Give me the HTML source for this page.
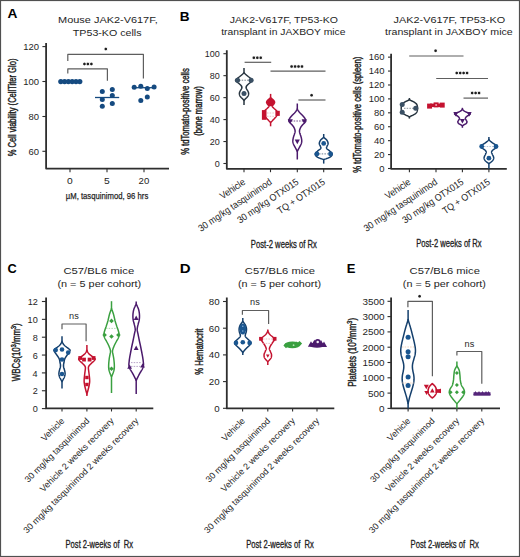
<!DOCTYPE html>
<html><head><meta charset="utf-8"><style>
html,body{margin:0;padding:0;background:#fff;}
svg{display:block;}
svg text{font-family:"Liberation Sans", sans-serif;}
</style></head><body>
<svg width="520" height="557" viewBox="0 0 520 557">
<rect x="0" y="0" width="520" height="557" fill="#fff"/>
<rect x="0.5" y="0.5" width="519" height="556" fill="none" stroke="#505050" stroke-width="1.2"/>
<text x="7.46" y="17.9" font-size="13.6" font-weight="bold" fill="#000" textLength="9.92" lengthAdjust="spacingAndGlyphs" >A</text>
<text x="179.88" y="21.1" font-size="13.6" font-weight="bold" fill="#000" textLength="9.83" lengthAdjust="spacingAndGlyphs" >B</text>
<text x="7.59" y="272.8" font-size="13.6" font-weight="bold" fill="#000" textLength="9.26" lengthAdjust="spacingAndGlyphs" >C</text>
<text x="179.79" y="273" font-size="13.6" font-weight="bold" fill="#000" textLength="10.85" lengthAdjust="spacingAndGlyphs" >D</text>
<text x="346.82" y="273" font-size="13.6" font-weight="bold" fill="#000" textLength="8.69" lengthAdjust="spacingAndGlyphs" >E</text>
<text x="58.1" y="22.6" font-size="9.9" font-weight="normal" fill="#1e1e1e" textLength="99.59" lengthAdjust="spacingAndGlyphs" >Mouse JAK2-V617F,</text>
<text x="72.86" y="35.6" font-size="9.9" font-weight="normal" fill="#1e1e1e" textLength="68.7" lengthAdjust="spacingAndGlyphs" >TP53-KO cells</text>
<polyline points="46.1,43 46.1,168.6 169,168.6" fill="none" stroke="#2e2e2e" stroke-width="1.8" stroke-linejoin="round"/>
<line x1="42.4" y1="46.6" x2="46" y2="46.6" stroke="#2e2e2e" stroke-width="1.1" />
<text x="23.3" y="49.8" font-size="8.3" font-weight="normal" fill="#1e1e1e" textLength="15.77" lengthAdjust="spacingAndGlyphs" >120</text>
<line x1="42.4" y1="81.5" x2="46" y2="81.5" stroke="#2e2e2e" stroke-width="1.1" />
<text x="23.3" y="84.7" font-size="8.3" font-weight="normal" fill="#1e1e1e" textLength="15.77" lengthAdjust="spacingAndGlyphs" >100</text>
<line x1="42.4" y1="116.5" x2="46" y2="116.5" stroke="#2e2e2e" stroke-width="1.1" />
<text x="28.56" y="119.7" font-size="8.3" font-weight="normal" fill="#1e1e1e" textLength="10.51" lengthAdjust="spacingAndGlyphs" >80</text>
<line x1="42.4" y1="151.3" x2="46" y2="151.3" stroke="#2e2e2e" stroke-width="1.1" />
<text x="28.56" y="154.5" font-size="8.3" font-weight="normal" fill="#1e1e1e" textLength="10.51" lengthAdjust="spacingAndGlyphs" >60</text>
<line x1="70" y1="168.7" x2="70" y2="172.3" stroke="#2e2e2e" stroke-width="1.1" />
<text x="67.14" y="183.8" font-size="8.3" font-weight="normal" fill="#1e1e1e" textLength="5.71" lengthAdjust="spacingAndGlyphs" >0</text>
<line x1="107" y1="168.7" x2="107" y2="172.3" stroke="#2e2e2e" stroke-width="1.1" />
<text x="104.14" y="183.8" font-size="8.3" font-weight="normal" fill="#1e1e1e" textLength="5.74" lengthAdjust="spacingAndGlyphs" >5</text>
<line x1="144" y1="168.7" x2="144" y2="172.3" stroke="#2e2e2e" stroke-width="1.1" />
<text x="138.62" y="183.8" font-size="8.3" font-weight="normal" fill="#1e1e1e" textLength="10.66" lengthAdjust="spacingAndGlyphs" >20</text>
<text x="65.78" y="198.8" font-size="9.8" font-weight="normal" fill="#1e1e1e" stroke="#1e1e1e" stroke-width="0.25" textLength="82.49" lengthAdjust="spacingAndGlyphs" >µM, tasquinimod, 96 hrs</text>
<text transform="translate(16.1,156.27) rotate(-90) scale(0.7577,1)" font-size="10" fill="#1e1e1e" stroke="#1e1e1e" stroke-width="0.42"><tspan font-size="10" dy="0">% Cell viability (CellTiter Glo)</tspan></text>
<polyline points="67.8,61 67.8,54.4 143.4,54.4 143.4,78.4" fill="none" stroke="#5e5e5e" stroke-width="1.2" stroke-linejoin="round"/>
<polyline points="67.8,73.6 67.8,68.8 107.4,68.8 107.4,80.8" fill="none" stroke="#5e5e5e" stroke-width="1.2" stroke-linejoin="round"/>
<circle cx="105.8" cy="49" r="1.25" fill="#1e1e1e"/>
<path d="M105.8,47.3V50.7M104.3,48.15L107.3,49.85M104.3,49.85L107.3,48.15" stroke="#1e1e1e" stroke-width="0.5" opacity="0.5"/>
<circle cx="84.45" cy="63.9" r="1.25" fill="#1e1e1e"/>
<path d="M84.45,62.2V65.6M82.95,63.05L85.95,64.75M82.95,64.75L85.95,63.05" stroke="#1e1e1e" stroke-width="0.5" opacity="0.5"/>
<circle cx="87.9" cy="63.9" r="1.25" fill="#1e1e1e"/>
<path d="M87.9,62.2V65.6M86.4,63.05L89.4,64.75M86.4,64.75L89.4,63.05" stroke="#1e1e1e" stroke-width="0.5" opacity="0.5"/>
<circle cx="91.35" cy="63.9" r="1.25" fill="#1e1e1e"/>
<path d="M91.35,62.2V65.6M89.85,63.05L92.85,64.75M89.85,64.75L92.85,63.05" stroke="#1e1e1e" stroke-width="0.5" opacity="0.5"/>
<line x1="60" y1="81.6" x2="80.5" y2="81.6" stroke="#154a80" stroke-width="1.2" />
<circle cx="60.8" cy="81.6" r="2.6" fill="#154a80"/>
<circle cx="64.6" cy="81.6" r="2.6" fill="#154a80"/>
<circle cx="68.4" cy="81.6" r="2.6" fill="#154a80"/>
<circle cx="72.2" cy="81.6" r="2.6" fill="#154a80"/>
<circle cx="76" cy="81.6" r="2.6" fill="#154a80"/>
<circle cx="79.8" cy="81.6" r="2.6" fill="#154a80"/>
<line x1="95" y1="97.5" x2="119.2" y2="97.5" stroke="#154a80" stroke-width="1.3" />
<circle cx="102.3" cy="91.5" r="2.5" fill="#154a80"/>
<circle cx="112.3" cy="89.6" r="2.5" fill="#154a80"/>
<circle cx="112.3" cy="95.4" r="2.5" fill="#154a80"/>
<circle cx="102.3" cy="99.6" r="2.5" fill="#154a80"/>
<circle cx="112.3" cy="103.5" r="2.5" fill="#154a80"/>
<circle cx="102.3" cy="106.2" r="2.5" fill="#154a80"/>
<line x1="132" y1="87.7" x2="156" y2="87.7" stroke="#154a80" stroke-width="1.3" />
<circle cx="134.2" cy="87.3" r="2.5" fill="#154a80"/>
<circle cx="140.8" cy="86.2" r="2.5" fill="#154a80"/>
<circle cx="147.3" cy="88.5" r="2.5" fill="#154a80"/>
<circle cx="154.1" cy="86.9" r="2.5" fill="#154a80"/>
<circle cx="147.3" cy="96.9" r="2.5" fill="#154a80"/>
<circle cx="140.8" cy="100.4" r="2.5" fill="#154a80"/>
<text x="229.84" y="22.6" font-size="9.9" font-weight="normal" fill="#1e1e1e" textLength="108.15" lengthAdjust="spacingAndGlyphs" >JAK2-V617F, TP53-KO</text>
<text x="221.15" y="35.4" font-size="9.9" font-weight="normal" fill="#1e1e1e" textLength="124.3" lengthAdjust="spacingAndGlyphs" >transplant in JAXBOY mice</text>
<polyline points="226.8,50.2 226.8,168.8 342,168.8" fill="none" stroke="#2e2e2e" stroke-width="1.8" stroke-linejoin="round"/>
<line x1="223.4" y1="53.7" x2="226.8" y2="53.7" stroke="#2e2e2e" stroke-width="1.1" />
<text x="204.83" y="56.8" font-size="8.3" font-weight="normal" fill="#1e1e1e" textLength="15.02" lengthAdjust="spacingAndGlyphs" >100</text>
<line x1="223.4" y1="75.66" x2="226.8" y2="75.66" stroke="#2e2e2e" stroke-width="1.1" />
<text x="209.85" y="78.76" font-size="8.3" font-weight="normal" fill="#1e1e1e" textLength="10.01" lengthAdjust="spacingAndGlyphs" >80</text>
<line x1="223.4" y1="97.62" x2="226.8" y2="97.62" stroke="#2e2e2e" stroke-width="1.1" />
<text x="209.85" y="100.72" font-size="8.3" font-weight="normal" fill="#1e1e1e" textLength="10.01" lengthAdjust="spacingAndGlyphs" >60</text>
<line x1="223.4" y1="119.58" x2="226.8" y2="119.58" stroke="#2e2e2e" stroke-width="1.1" />
<text x="209.85" y="122.68" font-size="8.3" font-weight="normal" fill="#1e1e1e" textLength="10.01" lengthAdjust="spacingAndGlyphs" >40</text>
<line x1="223.4" y1="141.54" x2="226.8" y2="141.54" stroke="#2e2e2e" stroke-width="1.1" />
<text x="209.85" y="144.64" font-size="8.3" font-weight="normal" fill="#1e1e1e" textLength="10.01" lengthAdjust="spacingAndGlyphs" >20</text>
<line x1="223.4" y1="163.5" x2="226.8" y2="163.5" stroke="#2e2e2e" stroke-width="1.1" />
<text x="214.84" y="166.6" font-size="8.3" font-weight="normal" fill="#1e1e1e" textLength="5.01" lengthAdjust="spacingAndGlyphs" >0</text>
<text transform="translate(189,154.87) rotate(-90) scale(0.7697,1)" font-size="10" fill="#1e1e1e" stroke="#1e1e1e" stroke-width="0.42"><tspan font-size="10" dy="0">% tdTomato-positive cells</tspan></text>
<text transform="translate(202.3,135.78) rotate(-90) scale(0.7633,1)" font-size="10" fill="#1e1e1e" stroke="#1e1e1e" stroke-width="0.42"><tspan font-size="10" dy="0">(bone marrow)</tspan></text>
<line x1="244" y1="168.8" x2="244" y2="172.2" stroke="#2e2e2e" stroke-width="1.1" />
<line x1="270.5" y1="168.8" x2="270.5" y2="172.2" stroke="#2e2e2e" stroke-width="1.1" />
<line x1="297.3" y1="168.8" x2="297.3" y2="172.2" stroke="#2e2e2e" stroke-width="1.1" />
<line x1="323.7" y1="168.8" x2="323.7" y2="172.2" stroke="#2e2e2e" stroke-width="1.1" />
<line x1="244.6" y1="62.3" x2="271.2" y2="62.3" stroke="#5e5e5e" stroke-width="1.2" />
<circle cx="253.85" cy="57.7" r="1.25" fill="#1e1e1e"/>
<path d="M253.85,56V59.4M252.35,56.85L255.35,58.55M252.35,58.55L255.35,56.85" stroke="#1e1e1e" stroke-width="0.5" opacity="0.5"/>
<circle cx="257.3" cy="57.7" r="1.25" fill="#1e1e1e"/>
<path d="M257.3,56V59.4M255.8,56.85L258.8,58.55M255.8,58.55L258.8,56.85" stroke="#1e1e1e" stroke-width="0.5" opacity="0.5"/>
<circle cx="260.75" cy="57.7" r="1.25" fill="#1e1e1e"/>
<path d="M260.75,56V59.4M259.25,56.85L262.25,58.55M259.25,58.55L262.25,56.85" stroke="#1e1e1e" stroke-width="0.5" opacity="0.5"/>
<line x1="270.5" y1="71.1" x2="325.5" y2="71.1" stroke="#5e5e5e" stroke-width="1.2" />
<circle cx="291.62" cy="66.5" r="1.25" fill="#1e1e1e"/>
<path d="M291.62,64.8V68.2M290.12,65.65L293.12,67.35M290.12,67.35L293.12,65.65" stroke="#1e1e1e" stroke-width="0.5" opacity="0.5"/>
<circle cx="295.07" cy="66.5" r="1.25" fill="#1e1e1e"/>
<path d="M295.07,64.8V68.2M293.57,65.65L296.57,67.35M293.57,67.35L296.57,65.65" stroke="#1e1e1e" stroke-width="0.5" opacity="0.5"/>
<circle cx="298.52" cy="66.5" r="1.25" fill="#1e1e1e"/>
<path d="M298.52,64.8V68.2M297.02,65.65L300.02,67.35M297.02,67.35L300.02,65.65" stroke="#1e1e1e" stroke-width="0.5" opacity="0.5"/>
<circle cx="301.98" cy="66.5" r="1.25" fill="#1e1e1e"/>
<path d="M301.98,64.8V68.2M300.48,65.65L303.48,67.35M300.48,67.35L303.48,65.65" stroke="#1e1e1e" stroke-width="0.5" opacity="0.5"/>
<line x1="298.4" y1="100" x2="325.5" y2="100" stroke="#5e5e5e" stroke-width="1.2" />
<circle cx="311.6" cy="95.2" r="1.25" fill="#1e1e1e"/>
<path d="M311.6,93.5V96.9M310.1,94.35L313.1,96.05M310.1,96.05L313.1,94.35" stroke="#1e1e1e" stroke-width="0.5" opacity="0.5"/>
<path d="M244,72.8 L244.13,72.93 L244.31,73.1 L244.52,73.3 L244.75,73.52 L245,73.77 L245.27,74.01 L245.53,74.26 L245.8,74.5 L246.07,74.74 L246.35,74.98 L246.65,75.23 L246.95,75.48 L247.26,75.74 L247.57,75.99 L247.89,76.25 L248.2,76.5 L248.52,76.75 L248.86,77 L249.2,77.26 L249.54,77.51 L249.88,77.76 L250.21,78.01 L250.52,78.26 L250.8,78.5 L251.08,78.74 L251.36,78.97 L251.64,79.19 L251.91,79.42 L252.14,79.64 L252.32,79.86 L252.45,80.08 L252.5,80.3 L252.47,80.52 L252.37,80.72 L252.22,80.93 L252.01,81.14 L251.78,81.34 L251.52,81.56 L251.26,81.77 L251,82 L250.73,82.24 L250.43,82.48 L250.11,82.73 L249.78,82.98 L249.44,83.24 L249.11,83.49 L248.79,83.75 L248.5,84 L248.22,84.25 L247.95,84.51 L247.68,84.77 L247.43,85.03 L247.18,85.29 L246.96,85.54 L246.77,85.77 L246.6,86 L246.46,86.21 L246.35,86.41 L246.27,86.6 L246.2,86.78 L246.15,86.96 L246.12,87.14 L246.11,87.32 L246.1,87.5 L246.11,87.68 L246.14,87.86 L246.18,88.04 L246.24,88.22 L246.32,88.4 L246.4,88.59 L246.5,88.79 L246.6,89 L246.72,89.22 L246.86,89.46 L247.02,89.7 L247.18,89.96 L247.35,90.21 L247.51,90.47 L247.66,90.74 L247.8,91 L247.93,91.26 L248.06,91.53 L248.18,91.81 L248.3,92.08 L248.41,92.36 L248.49,92.64 L248.56,92.92 L248.6,93.2 L248.61,93.48 L248.61,93.78 L248.58,94.07 L248.54,94.36 L248.48,94.66 L248.4,94.94 L248.31,95.23 L248.2,95.5 L248.08,95.76 L247.93,96.02 L247.77,96.27 L247.6,96.52 L247.41,96.76 L247.22,97.01 L247.01,97.25 L246.8,97.5 L246.57,97.76 L246.31,98.02 L246.04,98.29 L245.76,98.56 L245.49,98.82 L245.23,99.07 L245,99.3 L244.8,99.5 L244.64,99.68 L244.5,99.84 L244.38,99.99 L244.28,100.12 L244.19,100.24 L244.12,100.34 L244.05,100.43 L244,100.5 L244,100.5 L243.95,100.43 L243.88,100.34 L243.81,100.24 L243.72,100.12 L243.62,99.99 L243.5,99.84 L243.36,99.68 L243.2,99.5 L243,99.3 L242.77,99.07 L242.51,98.82 L242.24,98.56 L241.96,98.29 L241.69,98.02 L241.43,97.76 L241.2,97.5 L240.99,97.25 L240.78,97.01 L240.59,96.76 L240.4,96.52 L240.23,96.27 L240.07,96.02 L239.92,95.76 L239.8,95.5 L239.69,95.23 L239.6,94.94 L239.52,94.66 L239.46,94.36 L239.42,94.07 L239.39,93.78 L239.39,93.48 L239.4,93.2 L239.44,92.92 L239.51,92.64 L239.59,92.36 L239.7,92.08 L239.82,91.81 L239.94,91.53 L240.07,91.26 L240.2,91 L240.34,90.74 L240.49,90.47 L240.65,90.21 L240.82,89.96 L240.98,89.7 L241.14,89.46 L241.28,89.22 L241.4,89 L241.5,88.79 L241.6,88.59 L241.68,88.4 L241.76,88.22 L241.82,88.04 L241.86,87.86 L241.89,87.68 L241.9,87.5 L241.89,87.32 L241.88,87.14 L241.85,86.96 L241.8,86.78 L241.73,86.6 L241.65,86.41 L241.54,86.21 L241.4,86 L241.23,85.77 L241.04,85.54 L240.82,85.29 L240.57,85.03 L240.32,84.77 L240.05,84.51 L239.78,84.25 L239.5,84 L239.21,83.75 L238.89,83.49 L238.56,83.24 L238.22,82.98 L237.89,82.73 L237.57,82.48 L237.27,82.24 L237,82 L236.74,81.77 L236.48,81.56 L236.22,81.34 L235.99,81.14 L235.78,80.93 L235.63,80.72 L235.53,80.52 L235.5,80.3 L235.55,80.08 L235.68,79.86 L235.86,79.64 L236.09,79.42 L236.36,79.19 L236.64,78.97 L236.92,78.74 L237.2,78.5 L237.48,78.26 L237.79,78.01 L238.12,77.76 L238.46,77.51 L238.8,77.26 L239.14,77 L239.48,76.75 L239.8,76.5 L240.11,76.25 L240.43,75.99 L240.74,75.74 L241.05,75.48 L241.35,75.23 L241.65,74.98 L241.93,74.74 L242.2,74.5 L242.47,74.26 L242.73,74.01 L243,73.77 L243.25,73.52 L243.48,73.3 L243.69,73.1 L243.87,72.93 L244,72.8Z" fill="none" stroke="#27343f" stroke-width="1.5" stroke-linejoin="round"/>
<line x1="244" y1="68.1" x2="244" y2="73.3" stroke="#27343f" stroke-width="1.5" />
<line x1="244" y1="100" x2="244" y2="105" stroke="#27343f" stroke-width="1.5" />
<line x1="239" y1="80.2" x2="249" y2="80.2" stroke="#555f68" stroke-width="0.8" stroke-dasharray="1.5,1.2"/>
<circle cx="237.6" cy="80.2" r="2.5" fill="#3a5064"/>
<circle cx="251.1" cy="80.2" r="2.5" fill="#3a5064"/>
<circle cx="244" cy="93.4" r="2.5" fill="#3a5064"/>
<path d="M270.6,97.6 L270.71,97.71 L270.86,97.85 L271.04,98.01 L271.24,98.2 L271.46,98.4 L271.68,98.6 L271.89,98.81 L272.1,99 L272.31,99.19 L272.53,99.38 L272.76,99.58 L272.99,99.78 L273.22,99.98 L273.43,100.19 L273.63,100.39 L273.8,100.6 L273.95,100.81 L274.1,101.02 L274.24,101.23 L274.36,101.44 L274.46,101.66 L274.53,101.87 L274.58,102.09 L274.6,102.3 L274.58,102.51 L274.52,102.73 L274.44,102.94 L274.33,103.16 L274.21,103.37 L274.07,103.58 L273.93,103.79 L273.8,104 L273.65,104.21 L273.48,104.42 L273.3,104.63 L273.11,104.84 L272.93,105.05 L272.76,105.24 L272.61,105.43 L272.5,105.6 L272.41,105.75 L272.34,105.88 L272.28,106 L272.24,106.11 L272.22,106.22 L272.22,106.34 L272.25,106.46 L272.3,106.6 L272.38,106.75 L272.5,106.91 L272.64,107.07 L272.8,107.24 L272.98,107.41 L273.18,107.6 L273.38,107.79 L273.6,108 L273.84,108.22 L274.1,108.46 L274.39,108.71 L274.68,108.96 L274.98,109.22 L275.27,109.49 L275.55,109.75 L275.8,110 L276.04,110.25 L276.28,110.5 L276.51,110.75 L276.73,111 L276.93,111.25 L277.11,111.5 L277.27,111.75 L277.4,112 L277.5,112.25 L277.59,112.49 L277.65,112.73 L277.69,112.97 L277.7,113.21 L277.7,113.46 L277.66,113.73 L277.6,114 L277.51,114.29 L277.38,114.59 L277.23,114.9 L277.05,115.22 L276.85,115.54 L276.64,115.86 L276.42,116.18 L276.2,116.5 L275.96,116.82 L275.7,117.14 L275.42,117.46 L275.13,117.78 L274.84,118.1 L274.55,118.41 L274.27,118.71 L274,119 L273.75,119.28 L273.49,119.55 L273.25,119.81 L273.01,120.07 L272.77,120.32 L272.54,120.55 L272.32,120.78 L272.1,121 L271.88,121.21 L271.66,121.42 L271.44,121.63 L271.23,121.83 L271.04,122 L270.86,122.16 L270.71,122.3 L270.6,122.4 L270.6,122.4 L270.49,122.3 L270.34,122.16 L270.16,122 L269.97,121.83 L269.76,121.63 L269.54,121.42 L269.32,121.21 L269.1,121 L268.88,120.78 L268.66,120.55 L268.43,120.32 L268.19,120.07 L267.95,119.81 L267.71,119.55 L267.45,119.28 L267.2,119 L266.93,118.71 L266.65,118.41 L266.36,118.1 L266.07,117.78 L265.78,117.46 L265.5,117.14 L265.24,116.82 L265,116.5 L264.78,116.18 L264.56,115.86 L264.35,115.54 L264.15,115.22 L263.97,114.9 L263.82,114.59 L263.69,114.29 L263.6,114 L263.54,113.73 L263.5,113.46 L263.5,113.21 L263.51,112.97 L263.55,112.73 L263.61,112.49 L263.7,112.25 L263.8,112 L263.93,111.75 L264.09,111.5 L264.27,111.25 L264.48,111 L264.69,110.75 L264.93,110.5 L265.16,110.25 L265.4,110 L265.65,109.75 L265.93,109.49 L266.22,109.22 L266.52,108.96 L266.81,108.71 L267.1,108.46 L267.36,108.22 L267.6,108 L267.82,107.79 L268.02,107.6 L268.22,107.41 L268.4,107.24 L268.56,107.07 L268.7,106.91 L268.82,106.75 L268.9,106.6 L268.95,106.46 L268.98,106.34 L268.98,106.22 L268.96,106.11 L268.92,106 L268.86,105.88 L268.79,105.75 L268.7,105.6 L268.59,105.43 L268.44,105.24 L268.27,105.05 L268.09,104.84 L267.9,104.63 L267.72,104.42 L267.55,104.21 L267.4,104 L267.27,103.79 L267.13,103.58 L266.99,103.37 L266.87,103.16 L266.76,102.94 L266.68,102.73 L266.62,102.51 L266.6,102.3 L266.62,102.09 L266.67,101.87 L266.74,101.66 L266.84,101.44 L266.96,101.23 L267.1,101.02 L267.25,100.81 L267.4,100.6 L267.57,100.39 L267.77,100.19 L267.98,99.98 L268.21,99.78 L268.44,99.58 L268.67,99.38 L268.89,99.19 L269.1,99 L269.31,98.81 L269.52,98.6 L269.74,98.4 L269.96,98.2 L270.16,98.01 L270.34,97.85 L270.49,97.71 L270.6,97.6Z" fill="none" stroke="#c4122f" stroke-width="1.5" stroke-linejoin="round"/>
<line x1="270.6" y1="93.9" x2="270.6" y2="98.1" stroke="#c4122f" stroke-width="1.5" />
<line x1="270.6" y1="121.9" x2="270.6" y2="126.3" stroke="#c4122f" stroke-width="1.5" />
<ellipse cx="270.6" cy="102.3" rx="3.6" ry="3.9" fill="#c4122f"/>
<rect x="261.9" y="110.1" width="4.6" height="9.7" fill="#c4122f"/>
<rect x="275.4" y="110.8" width="4.4" height="5.1" fill="#c4122f"/>
<line x1="267" y1="113" x2="274" y2="113" stroke="#e8a0a8" stroke-width="0.7" stroke-dasharray="1.5,1.2"/>
<line x1="267" y1="116.3" x2="274" y2="116.3" stroke="#e8a0a8" stroke-width="0.7" stroke-dasharray="1.5,1.2"/>
<path d="M297.3,109 L297.39,109.15 L297.51,109.36 L297.64,109.6 L297.8,109.88 L297.97,110.16 L298.14,110.45 L298.32,110.74 L298.5,111 L298.68,111.25 L298.86,111.5 L299.05,111.75 L299.25,112 L299.45,112.25 L299.66,112.5 L299.88,112.75 L300.1,113 L300.33,113.25 L300.57,113.49 L300.81,113.73 L301.06,113.97 L301.32,114.21 L301.58,114.46 L301.84,114.73 L302.1,115 L302.37,115.29 L302.66,115.6 L302.95,115.92 L303.25,116.25 L303.54,116.58 L303.82,116.9 L304.07,117.21 L304.3,117.5 L304.5,117.78 L304.69,118.05 L304.86,118.31 L305.02,118.56 L305.16,118.81 L305.29,119.05 L305.4,119.28 L305.5,119.5 L305.59,119.71 L305.67,119.91 L305.73,120.1 L305.78,120.28 L305.81,120.46 L305.83,120.64 L305.83,120.82 L305.8,121 L305.75,121.18 L305.69,121.36 L305.6,121.54 L305.49,121.72 L305.37,121.9 L305.23,122.09 L305.07,122.29 L304.9,122.5 L304.7,122.72 L304.48,122.95 L304.23,123.19 L303.97,123.44 L303.7,123.69 L303.43,123.95 L303.16,124.22 L302.9,124.5 L302.64,124.79 L302.38,125.09 L302.11,125.4 L301.84,125.72 L301.58,126.04 L301.34,126.36 L301.11,126.68 L300.9,127 L300.71,127.32 L300.54,127.64 L300.39,127.96 L300.24,128.28 L300.11,128.6 L300,128.91 L299.89,129.21 L299.8,129.5 L299.72,129.77 L299.65,130.02 L299.59,130.26 L299.54,130.5 L299.51,130.74 L299.49,130.98 L299.49,131.23 L299.5,131.5 L299.53,131.79 L299.58,132.08 L299.64,132.38 L299.72,132.69 L299.81,133 L299.9,133.33 L300,133.66 L300.1,134 L300.21,134.35 L300.33,134.71 L300.46,135.09 L300.6,135.47 L300.74,135.85 L300.87,136.24 L300.99,136.62 L301.1,137 L301.2,137.38 L301.29,137.76 L301.39,138.15 L301.47,138.53 L301.54,138.91 L301.61,139.29 L301.66,139.65 L301.7,140 L301.73,140.34 L301.74,140.66 L301.75,140.97 L301.74,141.28 L301.73,141.58 L301.7,141.89 L301.66,142.19 L301.6,142.5 L301.53,142.81 L301.45,143.11 L301.35,143.42 L301.24,143.72 L301.12,144.03 L300.99,144.34 L300.85,144.66 L300.7,145 L300.53,145.35 L300.35,145.71 L300.16,146.08 L299.96,146.45 L299.75,146.83 L299.53,147.22 L299.31,147.61 L299.1,148 L298.87,148.42 L298.62,148.88 L298.36,149.36 L298.1,149.84 L297.85,150.29 L297.63,150.7 L297.44,151.04 L297.3,151.3 L297.3,151.3 L297.16,151.04 L296.97,150.7 L296.75,150.29 L296.5,149.84 L296.24,149.36 L295.98,148.88 L295.73,148.42 L295.5,148 L295.29,147.61 L295.07,147.22 L294.85,146.83 L294.64,146.45 L294.44,146.08 L294.25,145.71 L294.07,145.35 L293.9,145 L293.75,144.66 L293.61,144.34 L293.48,144.03 L293.36,143.72 L293.25,143.42 L293.15,143.11 L293.07,142.81 L293,142.5 L292.94,142.19 L292.9,141.89 L292.87,141.58 L292.86,141.28 L292.85,140.97 L292.86,140.66 L292.87,140.34 L292.9,140 L292.94,139.65 L292.99,139.29 L293.06,138.91 L293.13,138.53 L293.21,138.15 L293.31,137.76 L293.4,137.38 L293.5,137 L293.61,136.62 L293.73,136.24 L293.86,135.85 L294,135.47 L294.14,135.09 L294.27,134.71 L294.39,134.35 L294.5,134 L294.6,133.66 L294.7,133.33 L294.79,133 L294.88,132.69 L294.96,132.38 L295.02,132.08 L295.07,131.79 L295.1,131.5 L295.11,131.23 L295.11,130.98 L295.09,130.74 L295.06,130.5 L295.01,130.26 L294.95,130.02 L294.88,129.77 L294.8,129.5 L294.71,129.21 L294.6,128.91 L294.49,128.6 L294.36,128.28 L294.21,127.96 L294.06,127.64 L293.89,127.32 L293.7,127 L293.49,126.68 L293.26,126.36 L293.02,126.04 L292.76,125.72 L292.49,125.4 L292.22,125.09 L291.96,124.79 L291.7,124.5 L291.44,124.22 L291.17,123.95 L290.9,123.69 L290.63,123.44 L290.37,123.19 L290.12,122.95 L289.9,122.72 L289.7,122.5 L289.53,122.29 L289.37,122.09 L289.23,121.9 L289.11,121.72 L289,121.54 L288.91,121.36 L288.85,121.18 L288.8,121 L288.77,120.82 L288.77,120.64 L288.79,120.46 L288.82,120.28 L288.87,120.1 L288.93,119.91 L289.01,119.71 L289.1,119.5 L289.2,119.28 L289.31,119.05 L289.44,118.81 L289.58,118.56 L289.74,118.31 L289.91,118.05 L290.1,117.78 L290.3,117.5 L290.53,117.21 L290.78,116.9 L291.06,116.58 L291.35,116.25 L291.65,115.92 L291.94,115.6 L292.23,115.29 L292.5,115 L292.76,114.73 L293.02,114.46 L293.28,114.21 L293.54,113.97 L293.79,113.73 L294.03,113.49 L294.27,113.25 L294.5,113 L294.72,112.75 L294.94,112.5 L295.15,112.25 L295.35,112 L295.55,111.75 L295.74,111.5 L295.92,111.25 L296.1,111 L296.28,110.74 L296.46,110.45 L296.63,110.16 L296.8,109.88 L296.96,109.6 L297.09,109.36 L297.21,109.15 L297.3,109Z" fill="none" stroke="#4b1a6c" stroke-width="1.5" stroke-linejoin="round"/>
<line x1="297.3" y1="103.5" x2="297.3" y2="109.5" stroke="#4b1a6c" stroke-width="1.5" />
<line x1="297.3" y1="150.8" x2="297.3" y2="159.5" stroke="#4b1a6c" stroke-width="1.5" />
<line x1="291" y1="121" x2="304" y2="121" stroke="#4b1a6c" stroke-width="0.8" stroke-dasharray="1.5,1.2"/>
<polygon points="290.3,123.81 292.9,119.13 287.7,119.13" fill="#4b1a6c"/>
<polygon points="304.2,123.81 306.8,119.13 301.6,119.13" fill="#4b1a6c"/>
<polygon points="297.3,144.21 299.9,139.53 294.7,139.53" fill="#4b1a6c"/>
<path d="M323.7,137.5 L323.94,137.69 L324.28,137.93 L324.68,138.21 L325.11,138.54 L325.56,138.89 L325.99,139.25 L326.38,139.63 L326.7,140 L326.97,140.38 L327.22,140.79 L327.46,141.22 L327.66,141.66 L327.84,142.11 L327.97,142.55 L328.06,142.98 L328.1,143.4 L328.07,143.81 L327.96,144.22 L327.8,144.63 L327.6,145.04 L327.39,145.43 L327.19,145.81 L327.02,146.17 L326.9,146.5 L326.81,146.8 L326.7,147.07 L326.61,147.31 L326.54,147.54 L326.5,147.76 L326.5,147.99 L326.57,148.23 L326.7,148.5 L326.93,148.79 L327.24,149.08 L327.61,149.38 L328.03,149.69 L328.47,150.01 L328.91,150.34 L329.33,150.66 L329.7,151 L330.07,151.34 L330.47,151.69 L330.87,152.05 L331.26,152.41 L331.61,152.78 L331.9,153.15 L332.11,153.53 L332.2,153.9 L332.2,154.28 L332.12,154.67 L331.98,155.07 L331.76,155.47 L331.48,155.87 L331.12,156.26 L330.7,156.64 L330.2,157 L329.56,157.37 L328.74,157.75 L327.81,158.13 L326.82,158.49 L325.86,158.84 L324.97,159.14 L324.23,159.4 L323.7,159.6 L323.7,159.6 L323.17,159.4 L322.43,159.14 L321.54,158.84 L320.57,158.49 L319.59,158.13 L318.66,157.75 L317.84,157.37 L317.2,157 L316.7,156.64 L316.28,156.26 L315.92,155.87 L315.64,155.47 L315.42,155.07 L315.28,154.67 L315.2,154.28 L315.2,153.9 L315.29,153.53 L315.5,153.15 L315.79,152.78 L316.14,152.41 L316.53,152.05 L316.93,151.69 L317.33,151.34 L317.7,151 L318.07,150.66 L318.49,150.34 L318.93,150.01 L319.37,149.69 L319.79,149.38 L320.16,149.08 L320.47,148.79 L320.7,148.5 L320.83,148.23 L320.9,147.99 L320.9,147.76 L320.86,147.54 L320.79,147.31 L320.7,147.07 L320.59,146.8 L320.5,146.5 L320.38,146.17 L320.21,145.81 L320.01,145.43 L319.8,145.04 L319.6,144.63 L319.44,144.22 L319.33,143.81 L319.3,143.4 L319.34,142.98 L319.43,142.55 L319.56,142.11 L319.74,141.66 L319.94,141.22 L320.18,140.79 L320.43,140.38 L320.7,140 L321.02,139.63 L321.41,139.25 L321.84,138.89 L322.29,138.54 L322.72,138.21 L323.12,137.93 L323.46,137.69 L323.7,137.5Z" fill="none" stroke="#143f6c" stroke-width="1.5" stroke-linejoin="round"/>
<line x1="323.7" y1="134" x2="323.7" y2="138" stroke="#143f6c" stroke-width="1.5" />
<line x1="323.7" y1="159.1" x2="323.7" y2="163.6" stroke="#143f6c" stroke-width="1.5" />
<line x1="319" y1="153.9" x2="328" y2="153.9" stroke="#445c78" stroke-width="0.8" stroke-dasharray="1.5,1.2"/>
<circle cx="323.7" cy="143.4" r="2.4" fill="#1a5690"/>
<circle cx="316.9" cy="153.9" r="2.4" fill="#1a5690"/>
<circle cx="330.5" cy="153.9" r="2.4" fill="#1a5690"/>
<text transform="translate(246,183.6) rotate(-34)" font-size="9.7" fill="#1e1e1e" text-anchor="end" textLength="28.46" lengthAdjust="spacingAndGlyphs">Vehicle</text>
<text transform="translate(272.5,183.6) rotate(-34)" font-size="9.7" fill="#1e1e1e" text-anchor="end" textLength="86.36" lengthAdjust="spacingAndGlyphs">30 mg/kg tasquinimod</text>
<text transform="translate(299.3,183.6) rotate(-34)" font-size="9.7" fill="#1e1e1e" text-anchor="end" textLength="71.64" lengthAdjust="spacingAndGlyphs">30 mg/kg OTX015</text>
<text transform="translate(325.7,183.6) rotate(-34)" font-size="9.7" fill="#1e1e1e" text-anchor="end" textLength="55.19" lengthAdjust="spacingAndGlyphs">TQ + OTX015</text>
<text x="250.87" y="247.5" font-size="10" font-weight="normal" fill="#1e1e1e" stroke="#1e1e1e" stroke-width="0.3" textLength="65.92" lengthAdjust="spacingAndGlyphs" >Post-2 weeks of Rx</text>
<text x="393.64" y="22.6" font-size="9.9" font-weight="normal" fill="#1e1e1e" textLength="111.47" lengthAdjust="spacingAndGlyphs" >JAK2-V617F, TP53-KO</text>
<text x="385.04" y="35.4" font-size="9.9" font-weight="normal" fill="#1e1e1e" textLength="127.71" lengthAdjust="spacingAndGlyphs" >transplant in JAXBOY mice</text>
<polyline points="391.1,53.7 391.1,168.8 506.8,168.8" fill="none" stroke="#2e2e2e" stroke-width="1.8" stroke-linejoin="round"/>
<line x1="388" y1="168.5" x2="391.1" y2="168.5" stroke="#2e2e2e" stroke-width="1.1" />
<text x="379.21" y="171.6" font-size="8.3" font-weight="normal" fill="#1e1e1e" textLength="5.26" lengthAdjust="spacingAndGlyphs" >0</text>
<line x1="388" y1="154.58" x2="391.1" y2="154.58" stroke="#2e2e2e" stroke-width="1.1" />
<text x="373.96" y="157.68" font-size="8.3" font-weight="normal" fill="#1e1e1e" textLength="10.51" lengthAdjust="spacingAndGlyphs" >20</text>
<line x1="388" y1="140.66" x2="391.1" y2="140.66" stroke="#2e2e2e" stroke-width="1.1" />
<text x="373.96" y="143.76" font-size="8.3" font-weight="normal" fill="#1e1e1e" textLength="10.51" lengthAdjust="spacingAndGlyphs" >40</text>
<line x1="388" y1="126.74" x2="391.1" y2="126.74" stroke="#2e2e2e" stroke-width="1.1" />
<text x="373.96" y="129.84" font-size="8.3" font-weight="normal" fill="#1e1e1e" textLength="10.51" lengthAdjust="spacingAndGlyphs" >60</text>
<line x1="388" y1="112.82" x2="391.1" y2="112.82" stroke="#2e2e2e" stroke-width="1.1" />
<text x="373.96" y="115.92" font-size="8.3" font-weight="normal" fill="#1e1e1e" textLength="10.51" lengthAdjust="spacingAndGlyphs" >80</text>
<line x1="388" y1="98.9" x2="391.1" y2="98.9" stroke="#2e2e2e" stroke-width="1.1" />
<text x="368.7" y="102" font-size="8.3" font-weight="normal" fill="#1e1e1e" textLength="15.77" lengthAdjust="spacingAndGlyphs" >100</text>
<line x1="388" y1="84.98" x2="391.1" y2="84.98" stroke="#2e2e2e" stroke-width="1.1" />
<text x="368.7" y="88.08" font-size="8.3" font-weight="normal" fill="#1e1e1e" textLength="15.77" lengthAdjust="spacingAndGlyphs" >120</text>
<line x1="388" y1="71.06" x2="391.1" y2="71.06" stroke="#2e2e2e" stroke-width="1.1" />
<text x="368.7" y="74.16" font-size="8.3" font-weight="normal" fill="#1e1e1e" textLength="15.77" lengthAdjust="spacingAndGlyphs" >140</text>
<line x1="388" y1="57.14" x2="391.1" y2="57.14" stroke="#2e2e2e" stroke-width="1.1" />
<text x="368.7" y="60.24" font-size="8.3" font-weight="normal" fill="#1e1e1e" textLength="15.77" lengthAdjust="spacingAndGlyphs" >160</text>
<text transform="translate(361.4,172.87) rotate(-90) scale(0.7667,1)" font-size="10" fill="#1e1e1e" stroke="#1e1e1e" stroke-width="0.42"><tspan font-size="10" dy="0">% tdTomato-positive cells (spleen)</tspan></text>
<line x1="409.4" y1="168.8" x2="409.4" y2="172.2" stroke="#2e2e2e" stroke-width="1.1" />
<line x1="436" y1="168.8" x2="436" y2="172.2" stroke="#2e2e2e" stroke-width="1.1" />
<line x1="462.4" y1="168.8" x2="462.4" y2="172.2" stroke="#2e2e2e" stroke-width="1.1" />
<line x1="488.9" y1="168.8" x2="488.9" y2="172.2" stroke="#2e2e2e" stroke-width="1.1" />
<line x1="409.2" y1="56" x2="463.5" y2="56" stroke="#5e5e5e" stroke-width="1.2" />
<circle cx="435.6" cy="50.7" r="1.25" fill="#1e1e1e"/>
<path d="M435.6,49V52.4M434.1,49.85L437.1,51.55M434.1,51.55L437.1,49.85" stroke="#1e1e1e" stroke-width="0.5" opacity="0.5"/>
<line x1="436.2" y1="78.5" x2="488" y2="78.5" stroke="#5e5e5e" stroke-width="1.2" />
<circle cx="456.72" cy="73" r="1.25" fill="#1e1e1e"/>
<path d="M456.72,71.3V74.7M455.22,72.15L458.22,73.85M455.22,73.85L458.22,72.15" stroke="#1e1e1e" stroke-width="0.5" opacity="0.5"/>
<circle cx="460.17" cy="73" r="1.25" fill="#1e1e1e"/>
<path d="M460.17,71.3V74.7M458.67,72.15L461.67,73.85M458.67,73.85L461.67,72.15" stroke="#1e1e1e" stroke-width="0.5" opacity="0.5"/>
<circle cx="463.62" cy="73" r="1.25" fill="#1e1e1e"/>
<path d="M463.62,71.3V74.7M462.12,72.15L465.12,73.85M462.12,73.85L465.12,72.15" stroke="#1e1e1e" stroke-width="0.5" opacity="0.5"/>
<circle cx="467.07" cy="73" r="1.25" fill="#1e1e1e"/>
<path d="M467.07,71.3V74.7M465.57,72.15L468.57,73.85M465.57,73.85L468.57,72.15" stroke="#1e1e1e" stroke-width="0.5" opacity="0.5"/>
<line x1="463.5" y1="98.1" x2="488" y2="98.1" stroke="#5e5e5e" stroke-width="1.2" />
<circle cx="472.15" cy="92.9" r="1.25" fill="#1e1e1e"/>
<path d="M472.15,91.2V94.6M470.65,92.05L473.65,93.75M470.65,93.75L473.65,92.05" stroke="#1e1e1e" stroke-width="0.5" opacity="0.5"/>
<circle cx="475.6" cy="92.9" r="1.25" fill="#1e1e1e"/>
<path d="M475.6,91.2V94.6M474.1,92.05L477.1,93.75M474.1,93.75L477.1,92.05" stroke="#1e1e1e" stroke-width="0.5" opacity="0.5"/>
<circle cx="479.05" cy="92.9" r="1.25" fill="#1e1e1e"/>
<path d="M479.05,91.2V94.6M477.55,92.05L480.55,93.75M477.55,93.75L480.55,92.05" stroke="#1e1e1e" stroke-width="0.5" opacity="0.5"/>
<path d="M409.4,99.6 L409.48,99.66 L409.58,99.73 L409.7,99.82 L409.84,99.92 L409.99,100.04 L410.17,100.15 L410.37,100.28 L410.6,100.4 L410.86,100.53 L411.15,100.66 L411.48,100.8 L411.82,100.95 L412.17,101.1 L412.52,101.26 L412.87,101.43 L413.2,101.6 L413.53,101.78 L413.86,101.97 L414.2,102.16 L414.53,102.36 L414.85,102.57 L415.16,102.78 L415.45,102.99 L415.7,103.2 L415.92,103.41 L416.13,103.6 L416.31,103.79 L416.47,103.99 L416.62,104.21 L416.75,104.44 L416.88,104.7 L417,105 L417.12,105.34 L417.23,105.72 L417.33,106.13 L417.42,106.56 L417.49,107 L417.55,107.44 L417.59,107.88 L417.6,108.3 L417.59,108.72 L417.55,109.16 L417.49,109.6 L417.42,110.04 L417.33,110.47 L417.23,110.88 L417.12,111.26 L417,111.6 L416.88,111.9 L416.75,112.16 L416.62,112.39 L416.47,112.61 L416.31,112.81 L416.13,113 L415.92,113.19 L415.7,113.4 L415.45,113.61 L415.16,113.82 L414.85,114.03 L414.53,114.24 L414.2,114.44 L413.86,114.63 L413.53,114.82 L413.2,115 L412.87,115.17 L412.52,115.34 L412.17,115.5 L411.82,115.65 L411.48,115.8 L411.15,115.94 L410.86,116.07 L410.6,116.2 L410.37,116.32 L410.17,116.45 L409.99,116.56 L409.84,116.68 L409.7,116.78 L409.58,116.87 L409.48,116.94 L409.4,117 L409.4,117 L409.32,116.94 L409.22,116.87 L409.1,116.78 L408.96,116.68 L408.81,116.56 L408.63,116.45 L408.43,116.32 L408.2,116.2 L407.94,116.07 L407.65,115.94 L407.32,115.8 L406.98,115.65 L406.63,115.5 L406.28,115.34 L405.93,115.17 L405.6,115 L405.27,114.82 L404.94,114.63 L404.6,114.44 L404.27,114.24 L403.95,114.03 L403.64,113.82 L403.35,113.61 L403.1,113.4 L402.88,113.19 L402.67,113 L402.49,112.81 L402.33,112.61 L402.18,112.39 L402.05,112.16 L401.92,111.9 L401.8,111.6 L401.68,111.26 L401.57,110.88 L401.47,110.47 L401.38,110.04 L401.31,109.6 L401.25,109.16 L401.21,108.72 L401.2,108.3 L401.21,107.88 L401.25,107.44 L401.31,107 L401.38,106.56 L401.47,106.13 L401.57,105.72 L401.68,105.34 L401.8,105 L401.92,104.7 L402.05,104.44 L402.18,104.21 L402.33,103.99 L402.49,103.79 L402.67,103.6 L402.88,103.41 L403.1,103.2 L403.35,102.99 L403.64,102.78 L403.95,102.57 L404.27,102.36 L404.6,102.16 L404.94,101.97 L405.27,101.78 L405.6,101.6 L405.93,101.43 L406.28,101.26 L406.63,101.1 L406.98,100.95 L407.32,100.8 L407.65,100.66 L407.94,100.53 L408.2,100.4 L408.43,100.28 L408.63,100.15 L408.81,100.04 L408.96,99.92 L409.1,99.82 L409.22,99.73 L409.32,99.66 L409.4,99.6Z" fill="none" stroke="#27343f" stroke-width="1.5" stroke-linejoin="round"/>
<line x1="409.4" y1="98" x2="409.4" y2="100.1" stroke="#27343f" stroke-width="1.5" />
<line x1="409.4" y1="116.5" x2="409.4" y2="118.6" stroke="#27343f" stroke-width="1.5" />
<line x1="404" y1="108.3" x2="414" y2="108.3" stroke="#6a7580" stroke-width="0.8" stroke-dasharray="1.5,1.2"/>
<circle cx="402.2" cy="104.4" r="2.5" fill="#3a5064"/>
<circle cx="402.2" cy="112.3" r="2.5" fill="#3a5064"/>
<circle cx="415.7" cy="108.3" r="2.5" fill="#3a5064"/>
<rect x="430" y="103.6" width="12" height="3.4" fill="#c4122f"/>
<rect x="427.1" y="103.6" width="5" height="5" fill="#c4122f"/>
<rect x="433.6" y="102.4" width="5" height="5" fill="#c4122f"/>
<rect x="439.7" y="102.6" width="5" height="5" fill="#c4122f"/>
<circle cx="436.1" cy="104.9" r="1" fill="#f0a0b0"/>
<path d="M462.4,109.2 L462.47,109.29 L462.56,109.42 L462.67,109.56 L462.79,109.72 L462.92,109.9 L463.07,110.07 L463.23,110.24 L463.4,110.4 L463.58,110.55 L463.77,110.7 L463.97,110.85 L464.19,111 L464.42,111.15 L464.66,111.3 L464.92,111.45 L465.2,111.6 L465.51,111.75 L465.84,111.9 L466.2,112.06 L466.57,112.21 L466.95,112.36 L467.32,112.51 L467.67,112.66 L468,112.8 L468.33,112.93 L468.67,113.06 L469.02,113.18 L469.35,113.3 L469.65,113.42 L469.9,113.54 L470.09,113.67 L470.2,113.8 L470.22,113.94 L470.17,114.08 L470.05,114.22 L469.89,114.36 L469.69,114.51 L469.46,114.67 L469.23,114.83 L469,115 L468.75,115.18 L468.46,115.36 L468.14,115.56 L467.81,115.76 L467.47,115.96 L467.15,116.17 L466.86,116.38 L466.6,116.6 L466.37,116.82 L466.15,117.06 L465.94,117.3 L465.74,117.54 L465.58,117.79 L465.44,118.03 L465.35,118.27 L465.3,118.5 L465.31,118.72 L465.37,118.94 L465.48,119.15 L465.62,119.36 L465.77,119.57 L465.93,119.78 L466.08,119.99 L466.2,120.2 L466.32,120.41 L466.45,120.62 L466.59,120.84 L466.72,121.05 L466.84,121.26 L466.93,121.48 L466.99,121.69 L467,121.9 L466.97,122.11 L466.91,122.33 L466.82,122.55 L466.7,122.77 L466.56,122.98 L466.39,123.2 L466.2,123.4 L466,123.6 L465.76,123.79 L465.47,123.99 L465.15,124.17 L464.81,124.36 L464.47,124.53 L464.15,124.7 L463.85,124.86 L463.6,125 L463.38,125.13 L463.19,125.26 L463.01,125.38 L462.85,125.49 L462.71,125.58 L462.59,125.67 L462.48,125.74 L462.4,125.8 L462.4,125.8 L462.32,125.74 L462.21,125.67 L462.09,125.58 L461.95,125.49 L461.79,125.38 L461.61,125.26 L461.42,125.13 L461.2,125 L460.95,124.86 L460.65,124.7 L460.33,124.53 L459.99,124.36 L459.65,124.17 L459.33,123.99 L459.04,123.79 L458.8,123.6 L458.6,123.4 L458.41,123.2 L458.24,122.98 L458.1,122.77 L457.98,122.55 L457.89,122.33 L457.83,122.11 L457.8,121.9 L457.81,121.69 L457.87,121.48 L457.96,121.26 L458.08,121.05 L458.21,120.84 L458.35,120.62 L458.48,120.41 L458.6,120.2 L458.72,119.99 L458.87,119.78 L459.03,119.57 L459.18,119.36 L459.32,119.15 L459.43,118.94 L459.49,118.72 L459.5,118.5 L459.45,118.27 L459.36,118.03 L459.22,117.79 L459.06,117.54 L458.86,117.3 L458.65,117.06 L458.43,116.82 L458.2,116.6 L457.94,116.38 L457.65,116.17 L457.33,115.96 L456.99,115.76 L456.66,115.56 L456.34,115.36 L456.05,115.18 L455.8,115 L455.57,114.83 L455.34,114.67 L455.11,114.51 L454.91,114.36 L454.75,114.22 L454.63,114.08 L454.58,113.94 L454.6,113.8 L454.71,113.67 L454.9,113.54 L455.15,113.42 L455.45,113.3 L455.78,113.18 L456.13,113.06 L456.47,112.93 L456.8,112.8 L457.13,112.66 L457.48,112.51 L457.85,112.36 L458.22,112.21 L458.6,112.06 L458.96,111.9 L459.29,111.75 L459.6,111.6 L459.88,111.45 L460.14,111.3 L460.38,111.15 L460.61,111 L460.83,110.85 L461.03,110.7 L461.22,110.55 L461.4,110.4 L461.57,110.24 L461.73,110.07 L461.88,109.9 L462.01,109.72 L462.13,109.56 L462.24,109.42 L462.33,109.29 L462.4,109.2Z" fill="none" stroke="#4b1a6c" stroke-width="1.5" stroke-linejoin="round"/>
<line x1="462.4" y1="107.8" x2="462.4" y2="109.7" stroke="#4b1a6c" stroke-width="1.5" />
<line x1="462.4" y1="125.3" x2="462.4" y2="127.8" stroke="#4b1a6c" stroke-width="1.5" />
<polygon points="455.8,116.5 458.3,112 453.3,112" fill="#4b1a6c"/>
<polygon points="469.2,116.5 471.7,112 466.7,112" fill="#4b1a6c"/>
<polygon points="462.4,123.6 464.9,119.1 459.9,119.1" fill="#4b1a6c"/>
<path d="M488.9,139.6 L488.98,139.71 L489.09,139.84 L489.21,140 L489.35,140.19 L489.51,140.38 L489.69,140.59 L489.88,140.8 L490.1,141 L490.34,141.2 L490.6,141.42 L490.89,141.64 L491.19,141.86 L491.5,142.09 L491.83,142.33 L492.16,142.56 L492.5,142.8 L492.86,143.04 L493.24,143.29 L493.64,143.55 L494.05,143.81 L494.45,144.06 L494.83,144.32 L495.19,144.56 L495.5,144.8 L495.79,145.03 L496.07,145.25 L496.34,145.46 L496.59,145.67 L496.8,145.88 L496.96,146.08 L497.06,146.29 L497.1,146.5 L497.06,146.71 L496.95,146.92 L496.78,147.13 L496.56,147.34 L496.31,147.56 L496.05,147.77 L495.77,147.98 L495.5,148.2 L495.21,148.42 L494.89,148.64 L494.54,148.86 L494.18,149.09 L493.82,149.31 L493.48,149.54 L493.17,149.77 L492.9,150 L492.66,150.23 L492.44,150.46 L492.23,150.69 L492.04,150.92 L491.88,151.15 L491.75,151.39 L491.66,151.64 L491.6,151.9 L491.59,152.17 L491.63,152.45 L491.7,152.74 L491.81,153.04 L491.93,153.33 L492.06,153.63 L492.18,153.92 L492.3,154.2 L492.41,154.47 L492.54,154.74 L492.68,155.01 L492.82,155.27 L492.96,155.54 L493.09,155.79 L493.2,156.05 L493.3,156.3 L493.39,156.55 L493.47,156.79 L493.55,157.02 L493.61,157.26 L493.66,157.49 L493.7,157.72 L493.71,157.96 L493.7,158.2 L493.67,158.45 L493.61,158.69 L493.54,158.94 L493.45,159.19 L493.34,159.45 L493.21,159.7 L493.07,159.95 L492.9,160.2 L492.71,160.45 L492.48,160.72 L492.24,160.98 L491.97,161.24 L491.7,161.5 L491.43,161.75 L491.16,161.98 L490.9,162.2 L490.64,162.4 L490.35,162.6 L490.06,162.8 L489.77,162.97 L489.5,163.14 L489.26,163.28 L489.05,163.4 L488.9,163.5 L488.9,163.5 L488.75,163.4 L488.54,163.28 L488.3,163.14 L488.02,162.97 L487.74,162.8 L487.45,162.6 L487.16,162.4 L486.9,162.2 L486.64,161.98 L486.37,161.75 L486.1,161.5 L485.82,161.24 L485.56,160.98 L485.32,160.72 L485.09,160.45 L484.9,160.2 L484.73,159.95 L484.59,159.7 L484.46,159.45 L484.35,159.19 L484.26,158.94 L484.19,158.69 L484.13,158.45 L484.1,158.2 L484.09,157.96 L484.1,157.72 L484.14,157.49 L484.19,157.26 L484.25,157.02 L484.33,156.79 L484.41,156.55 L484.5,156.3 L484.6,156.05 L484.71,155.79 L484.84,155.54 L484.98,155.27 L485.12,155.01 L485.26,154.74 L485.39,154.47 L485.5,154.2 L485.62,153.92 L485.74,153.63 L485.87,153.33 L485.99,153.04 L486.1,152.74 L486.17,152.45 L486.21,152.17 L486.2,151.9 L486.14,151.64 L486.05,151.39 L485.92,151.15 L485.76,150.92 L485.57,150.69 L485.36,150.46 L485.14,150.23 L484.9,150 L484.63,149.77 L484.32,149.54 L483.98,149.31 L483.62,149.09 L483.26,148.86 L482.91,148.64 L482.59,148.42 L482.3,148.2 L482.03,147.98 L481.75,147.77 L481.49,147.56 L481.24,147.34 L481.02,147.13 L480.85,146.92 L480.74,146.71 L480.7,146.5 L480.74,146.29 L480.84,146.08 L481,145.88 L481.21,145.67 L481.46,145.46 L481.73,145.25 L482.01,145.03 L482.3,144.8 L482.61,144.56 L482.97,144.32 L483.35,144.06 L483.75,143.81 L484.16,143.55 L484.56,143.29 L484.94,143.04 L485.3,142.8 L485.64,142.56 L485.97,142.33 L486.3,142.09 L486.61,141.86 L486.91,141.64 L487.2,141.42 L487.46,141.2 L487.7,141 L487.92,140.8 L488.11,140.59 L488.29,140.38 L488.45,140.19 L488.59,140 L488.71,139.84 L488.82,139.71 L488.9,139.6Z" fill="none" stroke="#143f6c" stroke-width="1.5" stroke-linejoin="round"/>
<line x1="488.9" y1="137.1" x2="488.9" y2="140.1" stroke="#143f6c" stroke-width="1.5" />
<line x1="488.9" y1="163" x2="488.9" y2="168.8" stroke="#143f6c" stroke-width="1.5" />
<line x1="484" y1="146.5" x2="494" y2="146.5" stroke="#9fb6cc" stroke-width="0.8" stroke-dasharray="1.5,1.2"/>
<circle cx="481.7" cy="146.5" r="2.4" fill="#1a5690"/>
<circle cx="496" cy="146.5" r="2.4" fill="#1a5690"/>
<circle cx="488.9" cy="158.2" r="2.4" fill="#1a5690"/>
<text transform="translate(411.4,183.6) rotate(-34)" font-size="9.7" fill="#1e1e1e" text-anchor="end" textLength="28.46" lengthAdjust="spacingAndGlyphs">Vehicle</text>
<text transform="translate(438,183.6) rotate(-34)" font-size="9.7" fill="#1e1e1e" text-anchor="end" textLength="86.36" lengthAdjust="spacingAndGlyphs">30 mg/kg tasquinimod</text>
<text transform="translate(464.4,183.6) rotate(-34)" font-size="9.7" fill="#1e1e1e" text-anchor="end" textLength="71.64" lengthAdjust="spacingAndGlyphs">30 mg/kg OTX015</text>
<text transform="translate(490.9,183.6) rotate(-34)" font-size="9.7" fill="#1e1e1e" text-anchor="end" textLength="55.19" lengthAdjust="spacingAndGlyphs">TQ + OTX015</text>
<text x="416.27" y="247.2" font-size="10" font-weight="normal" fill="#1e1e1e" stroke="#1e1e1e" stroke-width="0.3" textLength="65.32" lengthAdjust="spacingAndGlyphs" >Post-2 weeks of Rx</text>
<text x="63.44" y="273.8" font-size="9.6" font-weight="normal" fill="#1e1e1e" textLength="70.75" lengthAdjust="spacingAndGlyphs" >C57/BL6 mice</text>
<text x="57.42" y="286.9" font-size="9.6" font-weight="normal" fill="#1e1e1e" textLength="83.84" lengthAdjust="spacingAndGlyphs" >(n = 5 per cohort)</text>
<polyline points="46.1,297.5 46.1,408.4 153.3,408.4" fill="none" stroke="#2e2e2e" stroke-width="1.8" stroke-linejoin="round"/>
<line x1="41.9" y1="408.6" x2="46" y2="408.6" stroke="#2e2e2e" stroke-width="1.1" />
<text x="32.69" y="412.2" font-size="8.3" font-weight="normal" fill="#1e1e1e" textLength="5.06" lengthAdjust="spacingAndGlyphs" >0</text>
<line x1="41.9" y1="390.75" x2="46" y2="390.75" stroke="#2e2e2e" stroke-width="1.1" />
<text x="32.8" y="394.35" font-size="8.3" font-weight="normal" fill="#1e1e1e" textLength="5.06" lengthAdjust="spacingAndGlyphs" >2</text>
<line x1="41.9" y1="372.9" x2="46" y2="372.9" stroke="#2e2e2e" stroke-width="1.1" />
<text x="32.6" y="376.5" font-size="8.3" font-weight="normal" fill="#1e1e1e" textLength="5.06" lengthAdjust="spacingAndGlyphs" >4</text>
<line x1="41.9" y1="355.05" x2="46" y2="355.05" stroke="#2e2e2e" stroke-width="1.1" />
<text x="32.74" y="358.65" font-size="8.3" font-weight="normal" fill="#1e1e1e" textLength="5.06" lengthAdjust="spacingAndGlyphs" >6</text>
<line x1="41.9" y1="337.2" x2="46" y2="337.2" stroke="#2e2e2e" stroke-width="1.1" />
<text x="32.74" y="340.8" font-size="8.3" font-weight="normal" fill="#1e1e1e" textLength="5.06" lengthAdjust="spacingAndGlyphs" >8</text>
<line x1="41.9" y1="319.35" x2="46" y2="319.35" stroke="#2e2e2e" stroke-width="1.1" />
<text x="27.64" y="322.95" font-size="8.3" font-weight="normal" fill="#1e1e1e" textLength="10.12" lengthAdjust="spacingAndGlyphs" >10</text>
<line x1="41.9" y1="301.5" x2="46" y2="301.5" stroke="#2e2e2e" stroke-width="1.1" />
<text x="27.75" y="305.1" font-size="8.3" font-weight="normal" fill="#1e1e1e" textLength="10.12" lengthAdjust="spacingAndGlyphs" >12</text>
<text transform="translate(20.4,381.14) rotate(-90) scale(0.7691,1)" font-size="10.3" fill="#1e1e1e" stroke="#1e1e1e" stroke-width="0.42"><tspan font-size="10.3" dy="0">WBCs(10</tspan><tspan font-size="7" dy="-4.6">3</tspan><tspan font-size="10.3" dy="4.6">/mm</tspan><tspan font-size="7" dy="-4.6">3</tspan><tspan font-size="10.3" dy="4.6">)</tspan></text>
<line x1="62" y1="408.4" x2="62" y2="411.5" stroke="#2e2e2e" stroke-width="1.1" />
<line x1="86.9" y1="408.4" x2="86.9" y2="411.5" stroke="#2e2e2e" stroke-width="1.1" />
<line x1="111.5" y1="408.4" x2="111.5" y2="411.5" stroke="#2e2e2e" stroke-width="1.1" />
<line x1="136.2" y1="408.4" x2="136.2" y2="411.5" stroke="#2e2e2e" stroke-width="1.1" />
<polyline points="62,329.2 62,324 86.1,324 86.1,341.3" fill="none" stroke="#5e5e5e" stroke-width="1.2" stroke-linejoin="round"/>
<text x="69.08" y="318.8" font-size="8.6" font-weight="normal" fill="#1e1e1e" textLength="9.65" lengthAdjust="spacingAndGlyphs" >ns</text>
<path d="M62,341.2 L62.07,341.38 L62.17,341.62 L62.28,341.91 L62.4,342.22 L62.54,342.56 L62.68,342.89 L62.84,343.21 L63,343.5 L63.17,343.76 L63.34,344.02 L63.52,344.27 L63.71,344.52 L63.92,344.76 L64.13,345.01 L64.36,345.25 L64.6,345.5 L64.86,345.75 L65.15,346.01 L65.45,346.26 L65.76,346.52 L66.07,346.77 L66.39,347.02 L66.7,347.26 L67,347.5 L67.3,347.73 L67.62,347.96 L67.94,348.18 L68.25,348.4 L68.55,348.61 L68.83,348.82 L69.08,349.01 L69.3,349.2 L69.48,349.37 L69.65,349.52 L69.78,349.66 L69.9,349.79 L69.99,349.93 L70.05,350.07 L70.09,350.22 L70.1,350.4 L70.08,350.59 L70.02,350.78 L69.94,350.99 L69.83,351.2 L69.69,351.43 L69.54,351.67 L69.38,351.92 L69.2,352.2 L69,352.5 L68.78,352.82 L68.53,353.17 L68.27,353.53 L68,353.89 L67.73,354.26 L67.46,354.63 L67.2,355 L66.94,355.37 L66.67,355.76 L66.4,356.15 L66.12,356.55 L65.86,356.94 L65.62,357.32 L65.39,357.67 L65.2,358 L65.04,358.29 L64.91,358.56 L64.79,358.8 L64.7,359.03 L64.62,359.26 L64.54,359.49 L64.47,359.73 L64.4,360 L64.33,360.29 L64.27,360.59 L64.23,360.9 L64.18,361.22 L64.14,361.54 L64.1,361.86 L64.05,362.18 L64,362.5 L63.94,362.81 L63.87,363.12 L63.79,363.44 L63.71,363.75 L63.64,364.06 L63.58,364.38 L63.53,364.69 L63.5,365 L63.49,365.31 L63.48,365.61 L63.49,365.92 L63.51,366.22 L63.54,366.53 L63.58,366.84 L63.64,367.16 L63.7,367.5 L63.78,367.85 L63.89,368.21 L64,368.59 L64.13,368.97 L64.26,369.35 L64.39,369.74 L64.5,370.12 L64.6,370.5 L64.69,370.88 L64.78,371.25 L64.86,371.62 L64.94,372 L65,372.38 L65.05,372.75 L65.09,373.12 L65.1,373.5 L65.09,373.88 L65.06,374.26 L65.02,374.65 L64.96,375.03 L64.88,375.41 L64.8,375.79 L64.7,376.15 L64.6,376.5 L64.48,376.84 L64.35,377.16 L64.21,377.47 L64.06,377.78 L63.9,378.08 L63.73,378.38 L63.56,378.69 L63.4,379 L63.23,379.34 L63.03,379.7 L62.83,380.08 L62.62,380.46 L62.43,380.81 L62.26,381.13 L62.11,381.4 L62,381.6 L62,381.6 L61.89,381.4 L61.74,381.13 L61.57,380.81 L61.38,380.46 L61.17,380.08 L60.97,379.7 L60.77,379.34 L60.6,379 L60.44,378.69 L60.27,378.38 L60.1,378.08 L59.94,377.78 L59.79,377.47 L59.65,377.16 L59.52,376.84 L59.4,376.5 L59.3,376.15 L59.2,375.79 L59.12,375.41 L59.04,375.03 L58.98,374.65 L58.94,374.26 L58.91,373.88 L58.9,373.5 L58.91,373.12 L58.95,372.75 L59,372.38 L59.06,372 L59.14,371.62 L59.22,371.25 L59.31,370.88 L59.4,370.5 L59.5,370.12 L59.61,369.74 L59.74,369.35 L59.87,368.97 L60,368.59 L60.11,368.21 L60.22,367.85 L60.3,367.5 L60.36,367.16 L60.42,366.84 L60.46,366.53 L60.49,366.22 L60.51,365.92 L60.52,365.61 L60.51,365.31 L60.5,365 L60.47,364.69 L60.42,364.38 L60.36,364.06 L60.29,363.75 L60.21,363.44 L60.13,363.12 L60.06,362.81 L60,362.5 L59.95,362.18 L59.9,361.86 L59.86,361.54 L59.82,361.22 L59.77,360.9 L59.73,360.59 L59.67,360.29 L59.6,360 L59.53,359.73 L59.46,359.49 L59.38,359.26 L59.3,359.03 L59.21,358.8 L59.09,358.56 L58.96,358.29 L58.8,358 L58.61,357.67 L58.38,357.32 L58.14,356.94 L57.88,356.55 L57.6,356.15 L57.33,355.76 L57.06,355.37 L56.8,355 L56.54,354.63 L56.27,354.26 L56,353.89 L55.73,353.53 L55.47,353.17 L55.22,352.82 L55,352.5 L54.8,352.2 L54.62,351.92 L54.46,351.67 L54.31,351.43 L54.17,351.2 L54.06,350.99 L53.98,350.78 L53.92,350.59 L53.9,350.4 L53.91,350.22 L53.95,350.07 L54.01,349.93 L54.1,349.79 L54.22,349.66 L54.35,349.52 L54.52,349.37 L54.7,349.2 L54.92,349.01 L55.17,348.82 L55.45,348.61 L55.75,348.4 L56.06,348.18 L56.38,347.96 L56.7,347.73 L57,347.5 L57.3,347.26 L57.61,347.02 L57.93,346.77 L58.24,346.52 L58.55,346.26 L58.85,346.01 L59.14,345.75 L59.4,345.5 L59.64,345.25 L59.87,345.01 L60.08,344.76 L60.29,344.52 L60.48,344.27 L60.66,344.02 L60.83,343.76 L61,343.5 L61.16,343.21 L61.32,342.89 L61.46,342.56 L61.6,342.22 L61.72,341.91 L61.83,341.62 L61.93,341.38 L62,341.2Z" fill="none" stroke="#143f6c" stroke-width="1.5" stroke-linejoin="round"/>
<line x1="62" y1="336.3" x2="62" y2="341.7" stroke="#143f6c" stroke-width="1.5" />
<line x1="62" y1="381.1" x2="62" y2="388.4" stroke="#143f6c" stroke-width="1.5" />
<circle cx="55.7" cy="350.1" r="2.3" fill="#1a5690"/>
<circle cx="62" cy="349.5" r="2.3" fill="#1a5690"/>
<circle cx="68.2" cy="352.6" r="2.3" fill="#1a5690"/>
<circle cx="62" cy="359.5" r="2.3" fill="#1a5690"/>
<circle cx="62" cy="374" r="2.3" fill="#1a5690"/>
<path d="M86.9,350.2 L86.97,350.37 L87.06,350.6 L87.17,350.87 L87.29,351.18 L87.43,351.49 L87.58,351.81 L87.73,352.12 L87.9,352.4 L88.07,352.66 L88.26,352.91 L88.45,353.16 L88.66,353.41 L88.87,353.66 L89.1,353.9 L89.34,354.15 L89.6,354.4 L89.88,354.65 L90.18,354.91 L90.49,355.17 L90.82,355.42 L91.15,355.68 L91.48,355.93 L91.8,356.17 L92.1,356.4 L92.4,356.62 L92.7,356.84 L93.01,357.05 L93.31,357.25 L93.59,357.45 L93.86,357.64 L94.09,357.82 L94.3,358 L94.48,358.17 L94.65,358.31 L94.79,358.45 L94.91,358.59 L95.01,358.72 L95.07,358.87 L95.11,359.02 L95.1,359.2 L95.06,359.39 L94.97,359.59 L94.86,359.8 L94.71,360.02 L94.54,360.25 L94.35,360.49 L94.13,360.74 L93.9,361 L93.64,361.27 L93.33,361.56 L93,361.87 L92.65,362.18 L92.29,362.5 L91.94,362.81 L91.61,363.11 L91.3,363.4 L91.01,363.68 L90.73,363.95 L90.46,364.21 L90.19,364.47 L89.94,364.73 L89.71,364.99 L89.49,365.24 L89.3,365.5 L89.13,365.74 L88.97,365.97 L88.83,366.19 L88.71,366.41 L88.6,366.64 L88.51,366.9 L88.45,367.18 L88.4,367.5 L88.38,367.86 L88.39,368.26 L88.42,368.68 L88.46,369.12 L88.52,369.58 L88.58,370.05 L88.64,370.53 L88.7,371 L88.75,371.48 L88.81,371.96 L88.88,372.46 L88.94,372.97 L89.01,373.48 L89.08,373.99 L89.14,374.5 L89.2,375 L89.26,375.5 L89.32,376.01 L89.37,376.52 L89.43,377.03 L89.48,377.54 L89.53,378.04 L89.57,378.52 L89.6,379 L89.62,379.46 L89.64,379.9 L89.66,380.33 L89.67,380.75 L89.67,381.17 L89.66,381.6 L89.64,382.04 L89.6,382.5 L89.55,382.98 L89.48,383.46 L89.4,383.96 L89.31,384.47 L89.22,384.98 L89.11,385.49 L89.01,386 L88.9,386.5 L88.79,387 L88.67,387.51 L88.55,388.02 L88.42,388.53 L88.29,389.04 L88.16,389.54 L88.03,390.02 L87.9,390.5 L87.77,390.99 L87.63,391.49 L87.48,392 L87.34,392.5 L87.2,392.97 L87.08,393.38 L86.98,393.73 L86.9,394 L86.9,394 L86.82,393.73 L86.72,393.38 L86.6,392.97 L86.46,392.5 L86.32,392 L86.17,391.49 L86.03,390.99 L85.9,390.5 L85.77,390.02 L85.64,389.54 L85.51,389.04 L85.38,388.53 L85.25,388.02 L85.13,387.51 L85.01,387 L84.9,386.5 L84.79,386 L84.69,385.49 L84.58,384.98 L84.49,384.47 L84.4,383.96 L84.32,383.46 L84.25,382.98 L84.2,382.5 L84.16,382.04 L84.14,381.6 L84.13,381.17 L84.13,380.75 L84.14,380.33 L84.16,379.9 L84.18,379.46 L84.2,379 L84.23,378.52 L84.27,378.04 L84.32,377.54 L84.37,377.03 L84.43,376.52 L84.48,376.01 L84.54,375.5 L84.6,375 L84.66,374.5 L84.72,373.99 L84.79,373.48 L84.86,372.97 L84.92,372.46 L84.99,371.96 L85.05,371.48 L85.1,371 L85.16,370.53 L85.22,370.05 L85.28,369.58 L85.34,369.12 L85.38,368.68 L85.41,368.26 L85.42,367.86 L85.4,367.5 L85.35,367.18 L85.29,366.9 L85.2,366.64 L85.09,366.41 L84.97,366.19 L84.83,365.97 L84.67,365.74 L84.5,365.5 L84.31,365.24 L84.09,364.99 L83.86,364.73 L83.61,364.47 L83.34,364.21 L83.07,363.95 L82.79,363.68 L82.5,363.4 L82.19,363.11 L81.86,362.81 L81.51,362.5 L81.15,362.18 L80.8,361.87 L80.47,361.56 L80.16,361.27 L79.9,361 L79.67,360.74 L79.45,360.49 L79.26,360.25 L79.09,360.02 L78.94,359.8 L78.83,359.59 L78.74,359.39 L78.7,359.2 L78.69,359.02 L78.73,358.87 L78.79,358.72 L78.89,358.59 L79.01,358.45 L79.15,358.31 L79.32,358.17 L79.5,358 L79.71,357.82 L79.94,357.64 L80.21,357.45 L80.49,357.25 L80.79,357.05 L81.1,356.84 L81.4,356.62 L81.7,356.4 L82,356.17 L82.32,355.93 L82.65,355.68 L82.98,355.42 L83.31,355.17 L83.62,354.91 L83.92,354.65 L84.2,354.4 L84.46,354.15 L84.7,353.9 L84.93,353.66 L85.14,353.41 L85.35,353.16 L85.54,352.91 L85.73,352.66 L85.9,352.4 L86.07,352.12 L86.22,351.81 L86.37,351.49 L86.51,351.18 L86.63,350.87 L86.74,350.6 L86.83,350.37 L86.9,350.2Z" fill="none" stroke="#c4122f" stroke-width="1.5" stroke-linejoin="round"/>
<line x1="86.9" y1="345" x2="86.9" y2="350.7" stroke="#c4122f" stroke-width="1.5" />
<line x1="86.9" y1="393.5" x2="86.9" y2="396" stroke="#c4122f" stroke-width="1.5" />
<rect x="78.3" y="356.1" width="3.8" height="3.8" fill="#c4122f"/>
<rect x="91.7" y="356.1" width="3.8" height="3.8" fill="#c4122f"/>
<rect x="82.1" y="357.7" width="3.8" height="3.8" fill="#c4122f"/>
<rect x="87.7" y="357.7" width="3.8" height="3.8" fill="#c4122f"/>
<rect x="85.2" y="375.8" width="3.4" height="3.4" fill="#c4122f"/>
<rect x="85.2" y="382.8" width="3.4" height="3.4" fill="#c4122f"/>
<path d="M111.5,308.6 L111.57,308.77 L111.65,308.99 L111.75,309.25 L111.87,309.55 L111.99,309.88 L112.13,310.23 L112.26,310.61 L112.4,311 L112.54,311.41 L112.69,311.84 L112.85,312.3 L113.02,312.78 L113.19,313.29 L113.36,313.83 L113.53,314.4 L113.7,315 L113.87,315.65 L114.04,316.36 L114.21,317.11 L114.38,317.88 L114.56,318.66 L114.73,319.44 L114.91,320.19 L115.1,320.9 L115.29,321.58 L115.48,322.23 L115.68,322.88 L115.88,323.51 L116.08,324.13 L116.29,324.75 L116.49,325.37 L116.7,326 L116.91,326.64 L117.14,327.29 L117.37,327.94 L117.61,328.59 L117.83,329.23 L118.04,329.85 L118.23,330.44 L118.4,331 L118.55,331.52 L118.68,332 L118.8,332.46 L118.91,332.9 L118.99,333.33 L119.05,333.75 L119.09,334.17 L119.1,334.6 L119.08,335.03 L119.04,335.45 L118.97,335.86 L118.88,336.28 L118.77,336.69 L118.63,337.11 L118.48,337.55 L118.3,338 L118.09,338.47 L117.84,338.96 L117.57,339.46 L117.28,339.96 L116.97,340.47 L116.67,340.99 L116.38,341.5 L116.1,342 L115.84,342.5 L115.57,343.01 L115.3,343.52 L115.04,344.03 L114.79,344.54 L114.55,345.04 L114.32,345.52 L114.1,346 L113.9,346.47 L113.7,346.94 L113.52,347.41 L113.34,347.86 L113.18,348.3 L113.04,348.73 L112.91,349.13 L112.8,349.5 L112.71,349.83 L112.63,350.12 L112.57,350.37 L112.53,350.61 L112.5,350.85 L112.49,351.1 L112.49,351.38 L112.5,351.7 L112.53,352.06 L112.58,352.43 L112.65,352.83 L112.74,353.24 L112.83,353.66 L112.92,354.1 L113.01,354.55 L113.1,355 L113.18,355.46 L113.27,355.92 L113.36,356.38 L113.46,356.86 L113.55,357.36 L113.64,357.88 L113.72,358.42 L113.8,359 L113.88,359.62 L113.95,360.29 L114.03,361 L114.1,361.72 L114.17,362.44 L114.22,363.16 L114.27,363.85 L114.3,364.5 L114.32,365.11 L114.34,365.71 L114.35,366.28 L114.35,366.84 L114.34,367.39 L114.31,367.93 L114.26,368.47 L114.2,369 L114.11,369.53 L114.01,370.04 L113.88,370.55 L113.74,371.04 L113.59,371.54 L113.43,372.03 L113.27,372.51 L113.1,373 L112.91,373.51 L112.7,374.05 L112.47,374.61 L112.23,375.15 L112,375.66 L111.8,376.12 L111.63,376.51 L111.5,376.8 L111.5,376.8 L111.37,376.51 L111.2,376.12 L111,375.66 L110.77,375.15 L110.53,374.61 L110.3,374.05 L110.09,373.51 L109.9,373 L109.73,372.51 L109.57,372.03 L109.41,371.54 L109.26,371.04 L109.12,370.55 L108.99,370.04 L108.89,369.53 L108.8,369 L108.74,368.47 L108.69,367.93 L108.66,367.39 L108.65,366.84 L108.65,366.28 L108.66,365.71 L108.68,365.11 L108.7,364.5 L108.73,363.85 L108.78,363.16 L108.83,362.44 L108.9,361.72 L108.97,361 L109.05,360.29 L109.12,359.62 L109.2,359 L109.28,358.42 L109.36,357.88 L109.45,357.36 L109.54,356.86 L109.64,356.38 L109.73,355.92 L109.82,355.46 L109.9,355 L109.99,354.55 L110.08,354.1 L110.17,353.66 L110.26,353.24 L110.35,352.83 L110.42,352.43 L110.47,352.06 L110.5,351.7 L110.51,351.38 L110.51,351.1 L110.5,350.85 L110.47,350.61 L110.43,350.37 L110.37,350.12 L110.29,349.83 L110.2,349.5 L110.09,349.13 L109.96,348.73 L109.82,348.3 L109.66,347.86 L109.48,347.41 L109.3,346.94 L109.1,346.47 L108.9,346 L108.68,345.52 L108.45,345.04 L108.21,344.54 L107.96,344.03 L107.7,343.52 L107.43,343.01 L107.16,342.5 L106.9,342 L106.62,341.5 L106.33,340.99 L106.03,340.47 L105.72,339.96 L105.43,339.46 L105.16,338.96 L104.91,338.47 L104.7,338 L104.52,337.55 L104.37,337.11 L104.23,336.69 L104.12,336.28 L104.03,335.86 L103.96,335.45 L103.92,335.03 L103.9,334.6 L103.91,334.17 L103.95,333.75 L104.01,333.33 L104.09,332.9 L104.2,332.46 L104.32,332 L104.45,331.52 L104.6,331 L104.77,330.44 L104.96,329.85 L105.17,329.23 L105.39,328.59 L105.63,327.94 L105.86,327.29 L106.09,326.64 L106.3,326 L106.51,325.37 L106.71,324.75 L106.92,324.13 L107.12,323.51 L107.32,322.88 L107.52,322.23 L107.71,321.58 L107.9,320.9 L108.09,320.19 L108.27,319.44 L108.44,318.66 L108.62,317.88 L108.79,317.11 L108.96,316.36 L109.13,315.65 L109.3,315 L109.47,314.4 L109.64,313.83 L109.81,313.29 L109.98,312.78 L110.15,312.3 L110.31,311.84 L110.46,311.41 L110.6,311 L110.74,310.61 L110.87,310.23 L111.01,309.88 L111.13,309.55 L111.25,309.25 L111.35,308.99 L111.43,308.77 L111.5,308.6Z" fill="none" stroke="#3aa040" stroke-width="1.5" stroke-linejoin="round"/>
<line x1="111.5" y1="301.2" x2="111.5" y2="309.1" stroke="#3aa040" stroke-width="1.5" />
<line x1="111.5" y1="376.3" x2="111.5" y2="393" stroke="#3aa040" stroke-width="1.5" />
<line x1="106" y1="328.4" x2="117" y2="328.4" stroke="#8fca8f" stroke-width="0.7" stroke-dasharray="1.5,1.2"/>
<polygon points="111.5,318.6 113.8,320.9 111.5,323.2 109.2,320.9" fill="#3aa040"/>
<polygon points="104.6,332.7 106.9,335 104.6,337.3 102.3,335" fill="#3aa040"/>
<polygon points="111.5,334.2 113.8,336.5 111.5,338.8 109.2,336.5" fill="#3aa040"/>
<polygon points="118.4,332.7 120.7,335 118.4,337.3 116.1,335" fill="#3aa040"/>
<polygon points="111.5,366.4 113.8,368.7 111.5,371 109.2,368.7" fill="#3aa040"/>
<path d="M136.2,304 L136.29,304.19 L136.42,304.44 L136.56,304.73 L136.72,305.06 L136.9,305.42 L137.07,305.78 L137.24,306.15 L137.4,306.5 L137.55,306.85 L137.71,307.2 L137.87,307.57 L138.03,307.94 L138.19,308.32 L138.34,308.7 L138.47,309.1 L138.6,309.5 L138.71,309.91 L138.82,310.34 L138.92,310.77 L139.01,311.21 L139.1,311.66 L139.17,312.11 L139.24,312.55 L139.3,313 L139.35,313.45 L139.4,313.9 L139.43,314.35 L139.46,314.81 L139.48,315.26 L139.5,315.71 L139.5,316.16 L139.5,316.6 L139.49,317.03 L139.48,317.45 L139.45,317.86 L139.42,318.28 L139.39,318.69 L139.34,319.11 L139.27,319.55 L139.2,320 L139.11,320.47 L138.99,320.97 L138.87,321.48 L138.73,321.99 L138.59,322.51 L138.45,323.02 L138.32,323.52 L138.2,324 L138.09,324.47 L137.97,324.93 L137.86,325.39 L137.75,325.84 L137.65,326.28 L137.55,326.7 L137.47,327.11 L137.4,327.5 L137.34,327.86 L137.28,328.18 L137.24,328.48 L137.2,328.77 L137.18,329.07 L137.17,329.38 L137.17,329.72 L137.2,330.1 L137.25,330.51 L137.32,330.93 L137.41,331.38 L137.51,331.84 L137.63,332.33 L137.75,332.85 L137.87,333.4 L138,334 L138.13,334.65 L138.27,335.35 L138.42,336.1 L138.57,336.87 L138.73,337.66 L138.88,338.45 L139.04,339.24 L139.2,340 L139.36,340.75 L139.52,341.5 L139.68,342.25 L139.85,343 L140.02,343.75 L140.18,344.5 L140.34,345.25 L140.5,346 L140.66,346.75 L140.81,347.5 L140.96,348.25 L141.11,349 L141.26,349.75 L141.41,350.5 L141.56,351.25 L141.7,352 L141.85,352.76 L142,353.55 L142.15,354.34 L142.29,355.12 L142.44,355.9 L142.57,356.64 L142.69,357.35 L142.8,358 L142.89,358.6 L142.97,359.16 L143.04,359.69 L143.11,360.18 L143.16,360.65 L143.21,361.11 L143.26,361.56 L143.3,362 L143.35,362.43 L143.4,362.83 L143.45,363.22 L143.49,363.59 L143.52,363.96 L143.53,364.32 L143.53,364.7 L143.5,365.1 L143.45,365.51 L143.38,365.93 L143.29,366.35 L143.19,366.78 L143.07,367.2 L142.93,367.64 L142.77,368.07 L142.6,368.5 L142.4,368.93 L142.18,369.36 L141.94,369.78 L141.68,370.21 L141.41,370.65 L141.14,371.09 L140.87,371.54 L140.6,372 L140.33,372.47 L140.06,372.96 L139.79,373.45 L139.51,373.94 L139.23,374.45 L138.95,374.96 L138.68,375.48 L138.4,376 L138.11,376.56 L137.8,377.18 L137.48,377.81 L137.16,378.45 L136.86,379.05 L136.6,379.6 L136.37,380.06 L136.2,380.4 L136.2,380.4 L136.03,380.06 L135.8,379.6 L135.54,379.05 L135.24,378.45 L134.92,377.81 L134.6,377.18 L134.29,376.56 L134,376 L133.72,375.48 L133.45,374.96 L133.17,374.45 L132.89,373.94 L132.61,373.45 L132.34,372.96 L132.07,372.47 L131.8,372 L131.53,371.54 L131.26,371.09 L130.99,370.65 L130.72,370.21 L130.46,369.78 L130.22,369.36 L130,368.93 L129.8,368.5 L129.63,368.07 L129.47,367.64 L129.33,367.2 L129.21,366.78 L129.11,366.35 L129.02,365.93 L128.95,365.51 L128.9,365.1 L128.87,364.7 L128.87,364.32 L128.88,363.96 L128.91,363.59 L128.95,363.22 L129,362.83 L129.05,362.43 L129.1,362 L129.14,361.56 L129.19,361.11 L129.24,360.65 L129.29,360.18 L129.36,359.69 L129.43,359.16 L129.51,358.6 L129.6,358 L129.71,357.35 L129.83,356.64 L129.96,355.9 L130.11,355.12 L130.25,354.34 L130.4,353.55 L130.55,352.76 L130.7,352 L130.84,351.25 L130.99,350.5 L131.14,349.75 L131.29,349 L131.44,348.25 L131.59,347.5 L131.74,346.75 L131.9,346 L132.06,345.25 L132.22,344.5 L132.38,343.75 L132.55,343 L132.72,342.25 L132.88,341.5 L133.04,340.75 L133.2,340 L133.36,339.24 L133.52,338.45 L133.67,337.66 L133.83,336.87 L133.98,336.1 L134.13,335.35 L134.27,334.65 L134.4,334 L134.53,333.4 L134.65,332.85 L134.77,332.33 L134.89,331.84 L134.99,331.38 L135.08,330.93 L135.15,330.51 L135.2,330.1 L135.23,329.72 L135.23,329.38 L135.22,329.07 L135.2,328.77 L135.16,328.48 L135.12,328.18 L135.06,327.86 L135,327.5 L134.93,327.11 L134.85,326.7 L134.75,326.28 L134.65,325.84 L134.54,325.39 L134.43,324.93 L134.31,324.47 L134.2,324 L134.08,323.52 L133.95,323.02 L133.81,322.51 L133.67,321.99 L133.53,321.48 L133.41,320.97 L133.29,320.47 L133.2,320 L133.13,319.55 L133.06,319.11 L133.01,318.69 L132.97,318.28 L132.95,317.86 L132.92,317.45 L132.91,317.03 L132.9,316.6 L132.9,316.16 L132.9,315.71 L132.92,315.26 L132.94,314.81 L132.97,314.35 L133,313.9 L133.05,313.45 L133.1,313 L133.16,312.55 L133.23,312.11 L133.3,311.66 L133.39,311.21 L133.48,310.77 L133.58,310.34 L133.69,309.91 L133.8,309.5 L133.93,309.1 L134.06,308.7 L134.21,308.32 L134.37,307.94 L134.53,307.57 L134.69,307.2 L134.85,306.85 L135,306.5 L135.16,306.15 L135.33,305.78 L135.5,305.42 L135.67,305.06 L135.84,304.73 L135.98,304.44 L136.11,304.19 L136.2,304Z" fill="none" stroke="#4b1a6c" stroke-width="1.5" stroke-linejoin="round"/>
<line x1="136.2" y1="301.4" x2="136.2" y2="304.5" stroke="#4b1a6c" stroke-width="1.5" />
<line x1="136.2" y1="379.9" x2="136.2" y2="394" stroke="#4b1a6c" stroke-width="1.5" />
<line x1="131" y1="362.6" x2="141" y2="362.6" stroke="#9a7ab0" stroke-width="0.7" stroke-dasharray="1.5,1.2"/>
<line x1="131" y1="366.4" x2="141" y2="366.4" stroke="#9a7ab0" stroke-width="0.7" stroke-dasharray="1.5,1.2"/>
<polygon points="136.2,315.61 138.6,319.93 133.8,319.93" fill="#4b1a6c"/>
<polygon points="136.2,345.61 138.6,349.93 133.8,349.93" fill="#4b1a6c"/>
<polygon points="129.6,364.41 132,368.73 127.2,368.73" fill="#4b1a6c"/>
<polygon points="142.6,363.21 145,367.53 140.2,367.53" fill="#4b1a6c"/>
<text transform="translate(65,421.4) rotate(-45)" font-size="8.9" fill="#1e1e1e" text-anchor="end" textLength="28.7" lengthAdjust="spacingAndGlyphs">Vehicle</text>
<text transform="translate(89.9,421.4) rotate(-45)" font-size="8.9" fill="#1e1e1e" text-anchor="end" textLength="87.07" lengthAdjust="spacingAndGlyphs">30 mg/kg tasquinimod</text>
<text transform="translate(114.5,421.4) rotate(-45)" font-size="8.9" fill="#1e1e1e" text-anchor="end" textLength="100.42" lengthAdjust="spacingAndGlyphs">Vehicle 2 weeks recovery</text>
<text transform="translate(139.2,421.4) rotate(-45)" font-size="8.9" fill="#1e1e1e" text-anchor="end" textLength="158.8" lengthAdjust="spacingAndGlyphs">30 mg/kg tasquinimod 2 weeks recovery</text>
<text x="65.57" y="548.4" font-size="10.2" font-weight="normal" fill="#1e1e1e" stroke="#1e1e1e" stroke-width="0.3" textLength="67.42" lengthAdjust="spacingAndGlyphs" >Post 2-weeks of  Rx</text>
<text x="244.84" y="273.8" font-size="9.6" font-weight="normal" fill="#1e1e1e" textLength="70.24" lengthAdjust="spacingAndGlyphs" >C57/BL6 mice</text>
<text x="238.03" y="286.9" font-size="9.6" font-weight="normal" fill="#1e1e1e" textLength="83.03" lengthAdjust="spacingAndGlyphs" >(n = 5 per cohort)</text>
<polyline points="226.8,297.5 226.8,408.4 334.3,408.4" fill="none" stroke="#2e2e2e" stroke-width="1.8" stroke-linejoin="round"/>
<line x1="223" y1="408.3" x2="226.8" y2="408.3" stroke="#2e2e2e" stroke-width="1.1" />
<text x="214.18" y="411.7" font-size="8.3" font-weight="normal" fill="#1e1e1e" textLength="5.39" lengthAdjust="spacingAndGlyphs" >0</text>
<line x1="223" y1="381.6" x2="226.8" y2="381.6" stroke="#2e2e2e" stroke-width="1.1" />
<text x="208.8" y="385" font-size="8.3" font-weight="normal" fill="#1e1e1e" textLength="10.79" lengthAdjust="spacingAndGlyphs" >20</text>
<line x1="223" y1="354.9" x2="226.8" y2="354.9" stroke="#2e2e2e" stroke-width="1.1" />
<text x="208.8" y="358.3" font-size="8.3" font-weight="normal" fill="#1e1e1e" textLength="10.79" lengthAdjust="spacingAndGlyphs" >40</text>
<line x1="223" y1="328.2" x2="226.8" y2="328.2" stroke="#2e2e2e" stroke-width="1.1" />
<text x="208.8" y="331.6" font-size="8.3" font-weight="normal" fill="#1e1e1e" textLength="10.79" lengthAdjust="spacingAndGlyphs" >60</text>
<line x1="223" y1="301.5" x2="226.8" y2="301.5" stroke="#2e2e2e" stroke-width="1.1" />
<text x="208.8" y="304.9" font-size="8.3" font-weight="normal" fill="#1e1e1e" textLength="10.79" lengthAdjust="spacingAndGlyphs" >80</text>
<text transform="translate(202.5,374.87) rotate(-90) scale(0.7718,1)" font-size="10" fill="#1e1e1e" stroke="#1e1e1e" stroke-width="0.42"><tspan font-size="10" dy="0">% Hematocrit</tspan></text>
<line x1="242.6" y1="408.4" x2="242.6" y2="411.5" stroke="#2e2e2e" stroke-width="1.1" />
<line x1="267.8" y1="408.4" x2="267.8" y2="411.5" stroke="#2e2e2e" stroke-width="1.1" />
<line x1="292.6" y1="408.4" x2="292.6" y2="411.5" stroke="#2e2e2e" stroke-width="1.1" />
<line x1="317" y1="408.4" x2="317" y2="411.5" stroke="#2e2e2e" stroke-width="1.1" />
<polyline points="242.4,314.8 242.4,310.5 268.6,310.5 268.6,324" fill="none" stroke="#5e5e5e" stroke-width="1.2" stroke-linejoin="round"/>
<text x="250.08" y="305.3" font-size="8.6" font-weight="normal" fill="#1e1e1e" textLength="9.65" lengthAdjust="spacingAndGlyphs" >ns</text>
<path d="M242.8,321.5 L242.92,321.65 L243.09,321.85 L243.29,322.08 L243.51,322.34 L243.74,322.63 L243.98,322.92 L244.2,323.21 L244.4,323.5 L244.59,323.79 L244.78,324.08 L244.97,324.38 L245.16,324.69 L245.34,325 L245.5,325.33 L245.66,325.66 L245.8,326 L245.93,326.35 L246.05,326.71 L246.16,327.09 L246.26,327.47 L246.34,327.85 L246.41,328.24 L246.47,328.62 L246.5,329 L246.51,329.38 L246.51,329.76 L246.48,330.15 L246.44,330.53 L246.39,330.91 L246.33,331.29 L246.27,331.65 L246.2,332 L246.12,332.34 L246.02,332.67 L245.9,333 L245.78,333.31 L245.66,333.62 L245.56,333.92 L245.47,334.21 L245.4,334.5 L245.35,334.77 L245.3,335.04 L245.26,335.29 L245.24,335.53 L245.23,335.77 L245.25,336.01 L245.31,336.25 L245.4,336.5 L245.53,336.75 L245.71,336.99 L245.92,337.24 L246.15,337.48 L246.4,337.73 L246.67,337.98 L246.93,338.24 L247.2,338.5 L247.48,338.77 L247.78,339.06 L248.1,339.35 L248.43,339.64 L248.75,339.94 L249.06,340.23 L249.34,340.52 L249.6,340.8 L249.84,341.07 L250.08,341.34 L250.31,341.6 L250.53,341.86 L250.71,342.12 L250.86,342.38 L250.96,342.64 L251,342.9 L250.98,343.16 L250.92,343.42 L250.8,343.67 L250.65,343.92 L250.47,344.18 L250.26,344.45 L250.03,344.72 L249.8,345 L249.54,345.29 L249.24,345.6 L248.92,345.91 L248.58,346.23 L248.22,346.54 L247.87,346.87 L247.53,347.18 L247.2,347.5 L246.89,347.81 L246.58,348.13 L246.27,348.44 L245.96,348.76 L245.66,349.07 L245.37,349.38 L245.08,349.69 L244.8,350 L244.52,350.32 L244.23,350.66 L243.93,351.01 L243.65,351.36 L243.39,351.68 L243.15,351.97 L242.95,352.22 L242.8,352.4 L242.8,352.4 L242.65,352.22 L242.45,351.97 L242.21,351.68 L241.95,351.36 L241.67,351.01 L241.38,350.66 L241.08,350.32 L240.8,350 L240.52,349.69 L240.23,349.38 L239.94,349.07 L239.64,348.76 L239.33,348.44 L239.02,348.13 L238.71,347.81 L238.4,347.5 L238.08,347.18 L237.73,346.87 L237.38,346.54 L237.03,346.23 L236.68,345.91 L236.36,345.6 L236.06,345.29 L235.8,345 L235.57,344.72 L235.34,344.45 L235.13,344.18 L234.95,343.92 L234.8,343.67 L234.68,343.42 L234.62,343.16 L234.6,342.9 L234.64,342.64 L234.74,342.38 L234.89,342.12 L235.08,341.86 L235.29,341.6 L235.52,341.34 L235.76,341.07 L236,340.8 L236.26,340.52 L236.54,340.23 L236.85,339.94 L237.18,339.64 L237.5,339.35 L237.82,339.06 L238.12,338.77 L238.4,338.5 L238.67,338.24 L238.93,337.98 L239.2,337.73 L239.45,337.48 L239.68,337.24 L239.89,336.99 L240.07,336.75 L240.2,336.5 L240.29,336.25 L240.35,336.01 L240.37,335.77 L240.36,335.53 L240.34,335.29 L240.3,335.04 L240.25,334.77 L240.2,334.5 L240.13,334.21 L240.04,333.92 L239.94,333.62 L239.82,333.31 L239.7,333 L239.58,332.67 L239.48,332.34 L239.4,332 L239.33,331.65 L239.27,331.29 L239.21,330.91 L239.16,330.53 L239.12,330.15 L239.09,329.76 L239.09,329.38 L239.1,329 L239.13,328.62 L239.19,328.24 L239.26,327.85 L239.34,327.47 L239.44,327.09 L239.55,326.71 L239.67,326.35 L239.8,326 L239.94,325.66 L240.1,325.33 L240.26,325 L240.44,324.69 L240.63,324.38 L240.82,324.08 L241.01,323.79 L241.2,323.5 L241.4,323.21 L241.62,322.92 L241.86,322.63 L242.09,322.34 L242.31,322.08 L242.51,321.85 L242.68,321.65 L242.8,321.5Z" fill="none" stroke="#143f6c" stroke-width="1.5" stroke-linejoin="round"/>
<line x1="242.8" y1="318.1" x2="242.8" y2="322" stroke="#143f6c" stroke-width="1.5" />
<line x1="242.8" y1="351.9" x2="242.8" y2="355" stroke="#143f6c" stroke-width="1.5" />
<ellipse cx="242.8" cy="329.0" rx="3.4" ry="5.6" fill="#1a5690"/>
<circle cx="242.8" cy="326.2" r="0.7" fill="#8fb8e0"/>
<circle cx="242.8" cy="331" r="0.7" fill="#8fb8e0"/>
<circle cx="236" cy="342.9" r="2.3" fill="#1a5690"/>
<circle cx="242.8" cy="342.3" r="2.3" fill="#1a5690"/>
<circle cx="249.6" cy="342.9" r="2.3" fill="#1a5690"/>
<path d="M267.8,331 L267.87,331.15 L267.97,331.36 L268.08,331.6 L268.2,331.88 L268.34,332.16 L268.48,332.45 L268.64,332.74 L268.8,333 L268.97,333.25 L269.14,333.5 L269.32,333.75 L269.51,334 L269.72,334.25 L269.93,334.5 L270.16,334.75 L270.4,335 L270.67,335.25 L270.96,335.5 L271.27,335.76 L271.59,336.01 L271.91,336.26 L272.22,336.51 L272.52,336.76 L272.8,337 L273.07,337.24 L273.35,337.47 L273.62,337.69 L273.89,337.92 L274.13,338.14 L274.33,338.36 L274.49,338.58 L274.6,338.8 L274.65,339.01 L274.64,339.21 L274.6,339.41 L274.52,339.61 L274.41,339.81 L274.28,340.02 L274.14,340.25 L274,340.5 L273.84,340.77 L273.66,341.06 L273.45,341.36 L273.23,341.67 L273,341.99 L272.76,342.32 L272.53,342.66 L272.3,343 L272.07,343.35 L271.82,343.72 L271.56,344.1 L271.31,344.48 L271.06,344.87 L270.82,345.25 L270.6,345.63 L270.4,346 L270.22,346.36 L270.04,346.72 L269.87,347.07 L269.72,347.42 L269.59,347.77 L269.49,348.11 L269.42,348.46 L269.4,348.8 L269.43,349.14 L269.51,349.48 L269.62,349.81 L269.77,350.14 L269.93,350.47 L270.1,350.81 L270.26,351.15 L270.4,351.5 L270.54,351.86 L270.7,352.23 L270.87,352.6 L271.03,352.98 L271.19,353.36 L271.32,353.74 L271.43,354.12 L271.5,354.5 L271.54,354.88 L271.56,355.26 L271.56,355.65 L271.53,356.03 L271.48,356.41 L271.41,356.79 L271.32,357.15 L271.2,357.5 L271.05,357.84 L270.85,358.18 L270.63,358.52 L270.38,358.84 L270.13,359.16 L269.87,359.46 L269.63,359.74 L269.4,360 L269.18,360.25 L268.95,360.48 L268.72,360.7 L268.49,360.91 L268.27,361.09 L268.08,361.25 L267.92,361.39 L267.8,361.5 L267.8,361.5 L267.68,361.39 L267.52,361.25 L267.33,361.09 L267.11,360.91 L266.88,360.7 L266.65,360.48 L266.42,360.25 L266.2,360 L265.97,359.74 L265.73,359.46 L265.47,359.16 L265.22,358.84 L264.97,358.52 L264.75,358.18 L264.55,357.84 L264.4,357.5 L264.28,357.15 L264.19,356.79 L264.12,356.41 L264.07,356.03 L264.04,355.65 L264.04,355.26 L264.06,354.88 L264.1,354.5 L264.17,354.12 L264.28,353.74 L264.41,353.36 L264.57,352.98 L264.73,352.6 L264.9,352.23 L265.06,351.86 L265.2,351.5 L265.34,351.15 L265.5,350.81 L265.67,350.47 L265.83,350.14 L265.98,349.81 L266.09,349.48 L266.17,349.14 L266.2,348.8 L266.18,348.46 L266.11,348.11 L266.01,347.77 L265.88,347.42 L265.73,347.07 L265.56,346.72 L265.38,346.36 L265.2,346 L265,345.63 L264.78,345.25 L264.54,344.87 L264.29,344.48 L264.04,344.1 L263.78,343.72 L263.53,343.35 L263.3,343 L263.07,342.66 L262.84,342.32 L262.6,341.99 L262.37,341.67 L262.15,341.36 L261.94,341.06 L261.76,340.77 L261.6,340.5 L261.46,340.25 L261.32,340.02 L261.19,339.81 L261.08,339.61 L261,339.41 L260.96,339.21 L260.95,339.01 L261,338.8 L261.11,338.58 L261.27,338.36 L261.47,338.14 L261.71,337.92 L261.98,337.69 L262.25,337.47 L262.53,337.24 L262.8,337 L263.08,336.76 L263.38,336.51 L263.69,336.26 L264.01,336.01 L264.33,335.76 L264.64,335.5 L264.93,335.25 L265.2,335 L265.44,334.75 L265.67,334.5 L265.88,334.25 L266.09,334 L266.28,333.75 L266.46,333.5 L266.63,333.25 L266.8,333 L266.96,332.74 L267.12,332.45 L267.26,332.16 L267.4,331.88 L267.52,331.6 L267.63,331.36 L267.73,331.15 L267.8,331Z" fill="none" stroke="#c4122f" stroke-width="1.5" stroke-linejoin="round"/>
<line x1="267.8" y1="329.4" x2="267.8" y2="331.5" stroke="#c4122f" stroke-width="1.5" />
<line x1="267.8" y1="361" x2="267.8" y2="365" stroke="#c4122f" stroke-width="1.5" />
<rect x="259.1" y="336.9" width="3.8" height="3.8" fill="#c4122f"/>
<rect x="272.7" y="336.9" width="3.8" height="3.8" fill="#c4122f"/>
<line x1="263" y1="339" x2="272" y2="339" stroke="#e8a0a8" stroke-width="0.7" stroke-dasharray="1.5,1.2"/>
<line x1="263" y1="343.4" x2="272" y2="343.4" stroke="#e8a0a8" stroke-width="0.7" stroke-dasharray="1.5,1.2"/>
<polygon points="267.8,357.74 269.6,354.5 266,354.5" fill="#c4122f"/>
<ellipse cx="292.4" cy="344.8" rx="8.0" ry="3.4" fill="#3aa040"/>
<polygon points="286,343 288.6,345.6 286,348.2 283.4,345.6" fill="#3aa040"/>
<polygon points="289.5,342.4 292.1,345 289.5,347.6 286.9,345" fill="#3aa040"/>
<polygon points="293,341.7 295.6,344.3 293,346.9 290.4,344.3" fill="#3aa040"/>
<polygon points="296.5,341.4 299.1,344 296.5,346.6 293.9,344" fill="#3aa040"/>
<polygon points="299.5,341 302.1,343.6 299.5,346.2 296.9,343.6" fill="#3aa040"/>
<circle cx="293.6" cy="345.2" r="0.9" fill="#b0e4b0"/>
<ellipse cx="317" cy="345.2" rx="7.6" ry="2.6" fill="#4b1a6c"/>
<polygon points="311,341.25 314.1,346.83 307.9,346.83" fill="#4b1a6c"/>
<polygon points="314.4,339.65 317.5,345.23 311.3,345.23" fill="#4b1a6c"/>
<polygon points="321,340.05 324.1,345.63 317.9,345.63" fill="#4b1a6c"/>
<polygon points="324,341.45 327.1,347.03 320.9,347.03" fill="#4b1a6c"/>
<circle cx="317.7" cy="341.9" r="2.1" fill="#f2ecf6" stroke="#4b1a6c" stroke-width="1.7"/>
<text transform="translate(245.6,421.4) rotate(-45)" font-size="8.9" fill="#1e1e1e" text-anchor="end" textLength="28.7" lengthAdjust="spacingAndGlyphs">Vehicle</text>
<text transform="translate(270.8,421.4) rotate(-45)" font-size="8.9" fill="#1e1e1e" text-anchor="end" textLength="87.07" lengthAdjust="spacingAndGlyphs">30 mg/kg tasquinimod</text>
<text transform="translate(295.6,421.4) rotate(-45)" font-size="8.9" fill="#1e1e1e" text-anchor="end" textLength="100.42" lengthAdjust="spacingAndGlyphs">Vehicle 2 weeks recovery</text>
<text transform="translate(320,421.4) rotate(-45)" font-size="8.9" fill="#1e1e1e" text-anchor="end" textLength="158.8" lengthAdjust="spacingAndGlyphs">30 mg/kg tasquinimod 2 weeks recovery</text>
<text x="246.17" y="548.4" font-size="10.2" font-weight="normal" fill="#1e1e1e" stroke="#1e1e1e" stroke-width="0.3" textLength="67.62" lengthAdjust="spacingAndGlyphs" >Post 2-weeks of  Rx</text>
<text x="409.64" y="273.8" font-size="9.6" font-weight="normal" fill="#1e1e1e" textLength="70.24" lengthAdjust="spacingAndGlyphs" >C57/BL6 mice</text>
<text x="402.83" y="286.9" font-size="9.6" font-weight="normal" fill="#1e1e1e" textLength="83.03" lengthAdjust="spacingAndGlyphs" >(n = 5 per cohort)</text>
<polyline points="391.1,297.5 391.1,408.4 500,408.4" fill="none" stroke="#2e2e2e" stroke-width="1.8" stroke-linejoin="round"/>
<line x1="387.5" y1="408.4" x2="391.1" y2="408.4" stroke="#2e2e2e" stroke-width="1.1" />
<text x="379.08" y="411.8" font-size="8.3" font-weight="normal" fill="#1e1e1e" textLength="5.51" lengthAdjust="spacingAndGlyphs" >0</text>
<line x1="387.5" y1="393.1" x2="391.1" y2="393.1" stroke="#2e2e2e" stroke-width="1.1" />
<text x="368.06" y="396.5" font-size="8.3" font-weight="normal" fill="#1e1e1e" textLength="16.52" lengthAdjust="spacingAndGlyphs" >500</text>
<line x1="387.5" y1="377.8" x2="391.1" y2="377.8" stroke="#2e2e2e" stroke-width="1.1" />
<text x="362.57" y="381.2" font-size="8.3" font-weight="normal" fill="#1e1e1e" textLength="22.02" lengthAdjust="spacingAndGlyphs" >1000</text>
<line x1="387.5" y1="362.5" x2="391.1" y2="362.5" stroke="#2e2e2e" stroke-width="1.1" />
<text x="362.57" y="365.9" font-size="8.3" font-weight="normal" fill="#1e1e1e" textLength="22.02" lengthAdjust="spacingAndGlyphs" >1500</text>
<line x1="387.5" y1="347.2" x2="391.1" y2="347.2" stroke="#2e2e2e" stroke-width="1.1" />
<text x="362.57" y="350.6" font-size="8.3" font-weight="normal" fill="#1e1e1e" textLength="22.02" lengthAdjust="spacingAndGlyphs" >2000</text>
<line x1="387.5" y1="331.9" x2="391.1" y2="331.9" stroke="#2e2e2e" stroke-width="1.1" />
<text x="362.57" y="335.3" font-size="8.3" font-weight="normal" fill="#1e1e1e" textLength="22.02" lengthAdjust="spacingAndGlyphs" >2500</text>
<line x1="387.5" y1="316.6" x2="391.1" y2="316.6" stroke="#2e2e2e" stroke-width="1.1" />
<text x="362.57" y="320" font-size="8.3" font-weight="normal" fill="#1e1e1e" textLength="22.02" lengthAdjust="spacingAndGlyphs" >3000</text>
<line x1="387.5" y1="301.3" x2="391.1" y2="301.3" stroke="#2e2e2e" stroke-width="1.1" />
<text x="362.57" y="304.7" font-size="8.3" font-weight="normal" fill="#1e1e1e" textLength="22.02" lengthAdjust="spacingAndGlyphs" >3500</text>
<text transform="translate(356.3,386.76) rotate(-90) scale(0.8025,1)" font-size="10" fill="#1e1e1e" stroke="#1e1e1e" stroke-width="0.42"><tspan font-size="10" dy="0">Platelets (10</tspan><tspan font-size="6.8" dy="-4.6">3</tspan><tspan font-size="10" dy="4.6">/mm</tspan><tspan font-size="6.8" dy="-4.6">3</tspan><tspan font-size="10" dy="4.6">)</tspan></text>
<line x1="408.1" y1="408.4" x2="408.1" y2="411.5" stroke="#2e2e2e" stroke-width="1.1" />
<line x1="432.3" y1="408.4" x2="432.3" y2="411.5" stroke="#2e2e2e" stroke-width="1.1" />
<line x1="456.9" y1="408.4" x2="456.9" y2="411.5" stroke="#2e2e2e" stroke-width="1.1" />
<line x1="481.8" y1="408.4" x2="481.8" y2="411.5" stroke="#2e2e2e" stroke-width="1.1" />
<polyline points="407.9,307.3 407.9,301.3 432.4,301.3 432.4,376.2" fill="none" stroke="#5e5e5e" stroke-width="1.2" stroke-linejoin="round"/>
<circle cx="419.6" cy="296.3" r="1.25" fill="#1e1e1e"/>
<path d="M419.6,294.6V298M418.1,295.45L421.1,297.15M418.1,297.15L421.1,295.45" stroke="#1e1e1e" stroke-width="0.5" opacity="0.5"/>
<polyline points="456.9,355.4 456.9,351.5 481.8,351.5 481.8,383.8" fill="none" stroke="#5e5e5e" stroke-width="1.2" stroke-linejoin="round"/>
<text x="464.58" y="346.6" font-size="8.6" font-weight="normal" fill="#1e1e1e" textLength="9.65" lengthAdjust="spacingAndGlyphs" >ns</text>
<path d="M408.1,319.5 L408.17,319.75 L408.26,320.07 L408.37,320.45 L408.49,320.88 L408.62,321.35 L408.77,321.87 L408.93,322.42 L409.1,323 L409.29,323.62 L409.49,324.3 L409.72,325.02 L409.95,325.78 L410.19,326.57 L410.43,327.37 L410.67,328.19 L410.9,329 L411.13,329.83 L411.35,330.68 L411.58,331.55 L411.81,332.44 L412.03,333.33 L412.26,334.23 L412.48,335.12 L412.7,336 L412.92,336.88 L413.15,337.77 L413.38,338.67 L413.6,339.56 L413.82,340.45 L414.03,341.32 L414.22,342.17 L414.4,343 L414.57,343.8 L414.73,344.59 L414.88,345.37 L415.02,346.12 L415.14,346.87 L415.25,347.59 L415.34,348.3 L415.4,349 L415.44,349.67 L415.46,350.32 L415.46,350.95 L415.44,351.56 L415.41,352.17 L415.36,352.77 L415.29,353.38 L415.2,354 L415.09,354.63 L414.95,355.26 L414.79,355.9 L414.61,356.53 L414.43,357.16 L414.24,357.79 L414.07,358.4 L413.9,359 L413.74,359.59 L413.57,360.18 L413.4,360.76 L413.24,361.33 L413.08,361.89 L412.93,362.44 L412.81,362.98 L412.7,363.5 L412.61,364 L412.54,364.48 L412.49,364.94 L412.44,365.39 L412.41,365.84 L412.4,366.29 L412.39,366.74 L412.4,367.2 L412.42,367.67 L412.46,368.13 L412.51,368.59 L412.58,369.05 L412.65,369.52 L412.73,370 L412.81,370.49 L412.9,371 L413,371.53 L413.11,372.08 L413.24,372.64 L413.37,373.21 L413.5,373.78 L413.61,374.36 L413.72,374.93 L413.8,375.5 L413.87,376.06 L413.92,376.61 L413.97,377.17 L414.01,377.72 L414.03,378.28 L414.04,378.84 L414.03,379.41 L414,380 L413.95,380.59 L413.89,381.19 L413.81,381.79 L413.72,382.41 L413.61,383.03 L413.49,383.67 L413.35,384.32 L413.2,385 L413.03,385.7 L412.84,386.43 L412.63,387.18 L412.41,387.94 L412.18,388.71 L411.95,389.48 L411.72,390.24 L411.5,391 L411.28,391.76 L411.04,392.54 L410.8,393.32 L410.56,394.09 L410.33,394.86 L410.1,395.61 L409.89,396.32 L409.7,397 L409.52,397.65 L409.36,398.29 L409.21,398.91 L409.07,399.5 L408.94,400.06 L408.82,400.59 L408.7,401.07 L408.6,401.5 L408.51,401.88 L408.42,402.22 L408.35,402.52 L408.28,402.78 L408.22,403.01 L408.18,403.2 L408.13,403.36 L408.1,403.5 L408.1,403.5 L408.07,403.36 L408.02,403.2 L407.98,403.01 L407.92,402.78 L407.85,402.52 L407.78,402.22 L407.69,401.88 L407.6,401.5 L407.5,401.07 L407.38,400.59 L407.26,400.06 L407.13,399.5 L406.99,398.91 L406.84,398.29 L406.68,397.65 L406.5,397 L406.31,396.32 L406.1,395.61 L405.87,394.86 L405.64,394.09 L405.4,393.32 L405.16,392.54 L404.93,391.76 L404.7,391 L404.48,390.24 L404.25,389.48 L404.02,388.71 L403.79,387.94 L403.57,387.18 L403.36,386.43 L403.17,385.7 L403,385 L402.85,384.32 L402.71,383.67 L402.59,383.03 L402.48,382.41 L402.39,381.79 L402.31,381.19 L402.25,380.59 L402.2,380 L402.17,379.41 L402.16,378.84 L402.17,378.28 L402.19,377.72 L402.23,377.17 L402.28,376.61 L402.33,376.06 L402.4,375.5 L402.48,374.93 L402.59,374.36 L402.7,373.78 L402.83,373.21 L402.96,372.64 L403.09,372.08 L403.2,371.53 L403.3,371 L403.39,370.49 L403.47,370 L403.55,369.52 L403.62,369.05 L403.69,368.59 L403.74,368.13 L403.78,367.67 L403.8,367.2 L403.81,366.74 L403.8,366.29 L403.79,365.84 L403.76,365.39 L403.71,364.94 L403.66,364.48 L403.59,364 L403.5,363.5 L403.39,362.98 L403.27,362.44 L403.12,361.89 L402.96,361.33 L402.8,360.76 L402.63,360.18 L402.46,359.59 L402.3,359 L402.13,358.4 L401.96,357.79 L401.77,357.16 L401.59,356.53 L401.41,355.9 L401.25,355.26 L401.11,354.63 L401,354 L400.91,353.38 L400.84,352.77 L400.79,352.17 L400.76,351.56 L400.74,350.95 L400.74,350.32 L400.76,349.67 L400.8,349 L400.86,348.3 L400.95,347.59 L401.06,346.87 L401.18,346.12 L401.32,345.37 L401.47,344.59 L401.63,343.8 L401.8,343 L401.98,342.17 L402.17,341.32 L402.38,340.45 L402.6,339.56 L402.82,338.67 L403.05,337.77 L403.28,336.88 L403.5,336 L403.72,335.12 L403.94,334.23 L404.17,333.33 L404.39,332.44 L404.62,331.55 L404.85,330.68 L405.07,329.83 L405.3,329 L405.53,328.19 L405.77,327.37 L406.01,326.57 L406.25,325.78 L406.48,325.02 L406.71,324.3 L406.91,323.62 L407.1,323 L407.27,322.42 L407.43,321.87 L407.58,321.35 L407.71,320.88 L407.83,320.45 L407.94,320.07 L408.03,319.75 L408.1,319.5Z" fill="none" stroke="#143f6c" stroke-width="1.5" stroke-linejoin="round"/>
<line x1="408.1" y1="309.9" x2="408.1" y2="320" stroke="#143f6c" stroke-width="1.5" />
<line x1="408.1" y1="403" x2="408.1" y2="408.4" stroke="#143f6c" stroke-width="1.5" />
<line x1="402" y1="347" x2="414" y2="347" stroke="#e8c0a0" stroke-width="0.7" stroke-dasharray="1.5,1.2"/>
<line x1="402" y1="383" x2="414" y2="383" stroke="#e8c0a0" stroke-width="0.7" stroke-dasharray="1.5,1.2"/>
<circle cx="408.1" cy="337.2" r="2.5" fill="#1a5690"/>
<circle cx="408.1" cy="351.8" r="2.5" fill="#1a5690"/>
<circle cx="408.1" cy="356.7" r="2.5" fill="#1a5690"/>
<circle cx="408.1" cy="377.1" r="2.5" fill="#1a5690"/>
<circle cx="408.1" cy="385.4" r="2.5" fill="#1a5690"/>
<path d="M432.3,383.6 L432.44,383.73 L432.63,383.89 L432.85,384.09 L433.1,384.31 L433.36,384.55 L433.62,384.8 L433.87,385.05 L434.1,385.3 L434.32,385.55 L434.53,385.8 L434.75,386.05 L434.96,386.32 L435.17,386.59 L435.36,386.88 L435.54,387.18 L435.7,387.5 L435.85,387.84 L435.98,388.19 L436.11,388.57 L436.23,388.95 L436.32,389.34 L436.4,389.73 L436.46,390.12 L436.5,390.5 L436.52,390.88 L436.51,391.26 L436.49,391.65 L436.45,392.03 L436.39,392.41 L436.31,392.79 L436.22,393.15 L436.1,393.5 L435.96,393.84 L435.8,394.17 L435.61,394.5 L435.41,394.81 L435.2,395.12 L434.97,395.42 L434.74,395.71 L434.5,396 L434.24,396.29 L433.94,396.58 L433.62,396.87 L433.3,397.16 L432.99,397.42 L432.71,397.65 L432.47,397.85 L432.3,398 L432.3,398 L432.13,397.85 L431.89,397.65 L431.61,397.42 L431.3,397.16 L430.98,396.87 L430.66,396.58 L430.36,396.29 L430.1,396 L429.86,395.71 L429.63,395.42 L429.4,395.12 L429.19,394.81 L428.99,394.5 L428.8,394.17 L428.64,393.84 L428.5,393.5 L428.38,393.15 L428.29,392.79 L428.21,392.41 L428.15,392.03 L428.11,391.65 L428.09,391.26 L428.08,390.88 L428.1,390.5 L428.14,390.12 L428.2,389.73 L428.28,389.34 L428.38,388.95 L428.49,388.57 L428.62,388.19 L428.75,387.84 L428.9,387.5 L429.06,387.18 L429.24,386.88 L429.43,386.59 L429.64,386.32 L429.85,386.05 L430.07,385.8 L430.28,385.55 L430.5,385.3 L430.73,385.05 L430.98,384.8 L431.24,384.55 L431.5,384.31 L431.75,384.09 L431.97,383.89 L432.16,383.73 L432.3,383.6Z" fill="none" stroke="#c4122f" stroke-width="1.6" stroke-linejoin="round"/>
<polygon points="432.3,388.32 434.6,392.46 430,392.46" fill="#c4122f"/>
<polygon points="426.3,389.3 428.8,384.8 423.8,384.8" fill="#c4122f"/>
<polygon points="426.6,395.08 428.9,390.94 424.3,390.94" fill="#c4122f"/>
<polygon points="441,388.6 441,393.2 436.4,391.2" fill="#c4122f"/>
<rect x="435.5" y="389.2" width="5" height="3.6" fill="#c4122f"/>
<path d="M456.9,366 L457.08,366.3 L457.33,366.7 L457.63,367.16 L457.95,367.69 L458.28,368.25 L458.6,368.84 L458.88,369.42 L459.1,370 L459.27,370.58 L459.41,371.18 L459.52,371.8 L459.61,372.44 L459.69,373.08 L459.76,373.73 L459.83,374.37 L459.9,375 L459.96,375.62 L460.01,376.25 L460.05,376.88 L460.08,377.5 L460.12,378.12 L460.16,378.75 L460.22,379.38 L460.3,380 L460.4,380.63 L460.5,381.27 L460.61,381.92 L460.73,382.56 L460.87,383.2 L461.02,383.82 L461.2,384.42 L461.4,385 L461.64,385.55 L461.93,386.09 L462.24,386.6 L462.57,387.11 L462.89,387.6 L463.2,388.07 L463.48,388.54 L463.7,389 L463.88,389.45 L464.05,389.88 L464.19,390.29 L464.31,390.7 L464.41,391.1 L464.47,391.5 L464.5,391.9 L464.5,392.3 L464.46,392.7 L464.39,393.1 L464.29,393.49 L464.16,393.89 L464,394.28 L463.82,394.68 L463.62,395.09 L463.4,395.5 L463.15,395.93 L462.87,396.37 L462.57,396.81 L462.24,397.26 L461.9,397.71 L461.56,398.15 L461.22,398.58 L460.9,399 L460.58,399.41 L460.25,399.82 L459.92,400.23 L459.59,400.62 L459.26,401.01 L458.95,401.37 L458.66,401.7 L458.4,402 L458.15,402.27 L457.92,402.52 L457.7,402.74 L457.49,402.94 L457.31,403.11 L457.15,403.27 L457.01,403.39 L456.9,403.5 L456.9,403.5 L456.79,403.39 L456.65,403.27 L456.49,403.11 L456.31,402.94 L456.1,402.74 L455.88,402.52 L455.65,402.27 L455.4,402 L455.14,401.7 L454.85,401.37 L454.54,401.01 L454.21,400.62 L453.88,400.23 L453.55,399.82 L453.22,399.41 L452.9,399 L452.58,398.58 L452.24,398.15 L451.9,397.71 L451.56,397.26 L451.23,396.81 L450.93,396.37 L450.65,395.93 L450.4,395.5 L450.18,395.09 L449.98,394.68 L449.8,394.28 L449.64,393.89 L449.51,393.49 L449.41,393.1 L449.34,392.7 L449.3,392.3 L449.3,391.9 L449.33,391.5 L449.39,391.1 L449.49,390.7 L449.61,390.29 L449.75,389.88 L449.92,389.45 L450.1,389 L450.32,388.54 L450.6,388.07 L450.91,387.6 L451.23,387.11 L451.56,386.6 L451.87,386.09 L452.16,385.55 L452.4,385 L452.6,384.42 L452.78,383.82 L452.93,383.2 L453.07,382.56 L453.19,381.92 L453.3,381.27 L453.4,380.63 L453.5,380 L453.58,379.38 L453.64,378.75 L453.68,378.12 L453.72,377.5 L453.75,376.88 L453.79,376.25 L453.84,375.62 L453.9,375 L453.97,374.37 L454.04,373.73 L454.11,373.08 L454.19,372.44 L454.28,371.8 L454.39,371.18 L454.53,370.58 L454.7,370 L454.92,369.42 L455.2,368.84 L455.52,368.25 L455.85,367.69 L456.17,367.16 L456.47,366.7 L456.72,366.3 L456.9,366Z" fill="none" stroke="#3aa040" stroke-width="1.5" stroke-linejoin="round"/>
<line x1="456.9" y1="361.5" x2="456.9" y2="366.5" stroke="#3aa040" stroke-width="1.5" />
<line x1="456.9" y1="403" x2="456.9" y2="408.4" stroke="#3aa040" stroke-width="1.5" />
<polygon points="456.9,371 458.9,373 456.9,375 454.9,373" fill="#3aa040"/>
<polygon points="456.9,382.9 458.9,384.9 456.9,386.9 454.9,384.9" fill="#3aa040"/>
<polygon points="456.9,390.3 458.9,392.3 456.9,394.3 454.9,392.3" fill="#3aa040"/>
<polygon points="450.6,390.3 452.6,392.3 450.6,394.3 448.6,392.3" fill="#3aa040"/>
<polygon points="463.2,390.3 465.2,392.3 463.2,394.3 461.2,392.3" fill="#3aa040"/>
<polygon points="475.5,390.92 477.7,394.88 473.3,394.88" fill="#55257a"/>
<polygon points="479,390.92 481.2,394.88 476.8,394.88" fill="#55257a"/>
<polygon points="482.5,390.92 484.7,394.88 480.3,394.88" fill="#55257a"/>
<polygon points="486,390.92 488.2,394.88 483.8,394.88" fill="#55257a"/>
<polygon points="488.5,390.92 490.7,394.88 486.3,394.88" fill="#55257a"/>
<rect x="473.5" y="392.3" width="17" height="3.4" fill="#55257a"/>
<text transform="translate(411.1,421.4) rotate(-45)" font-size="8.9" fill="#1e1e1e" text-anchor="end" textLength="28.7" lengthAdjust="spacingAndGlyphs">Vehicle</text>
<text transform="translate(435.3,421.4) rotate(-45)" font-size="8.9" fill="#1e1e1e" text-anchor="end" textLength="87.07" lengthAdjust="spacingAndGlyphs">30 mg/kg tasquinimod</text>
<text transform="translate(459.9,421.4) rotate(-45)" font-size="8.9" fill="#1e1e1e" text-anchor="end" textLength="100.42" lengthAdjust="spacingAndGlyphs">Vehicle 2 weeks recovery</text>
<text transform="translate(484.8,421.4) rotate(-45)" font-size="8.9" fill="#1e1e1e" text-anchor="end" textLength="158.8" lengthAdjust="spacingAndGlyphs">30 mg/kg tasquinimod 2 weeks recovery</text>
<text x="410.57" y="548.4" font-size="10.2" font-weight="normal" fill="#1e1e1e" stroke="#1e1e1e" stroke-width="0.3" textLength="68.23" lengthAdjust="spacingAndGlyphs" >Post 2-weeks of  Rx</text>
</svg>
</body></html>
